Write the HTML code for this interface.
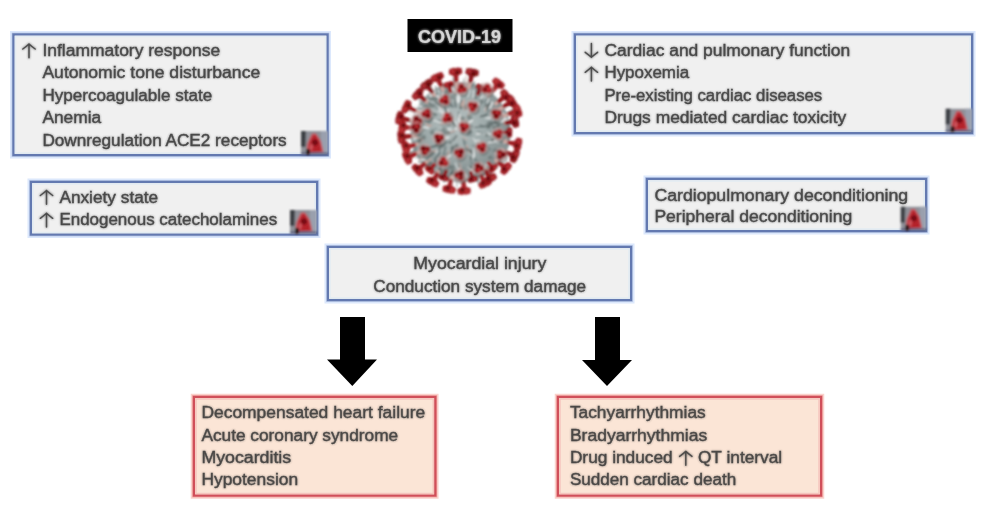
<!DOCTYPE html>
<html><head><meta charset="utf-8">
<style>
html,body{margin:0;padding:0;background:#fff;width:984px;height:506px;overflow:hidden}
svg{display:block}
text{font-family:"Liberation Sans",sans-serif;font-size:16px}
.bxh{fill:none;stroke:#dce8fc;stroke-width:7}
.bxh2{fill:none;stroke:#a8b8dc;stroke-width:3.6}
.rbh{fill:none;stroke:#fad2cc;stroke-width:6.5}
.rbh2{fill:none;stroke:#ee9a98;stroke-width:3.6}
.bx{fill:#f0f0f0;stroke:#6479b0;stroke-width:2.2}
.bxi{fill:none;stroke:#e2ecf2;stroke-width:1.4}
.rbi{fill:none;stroke:#f6c4bc;stroke-width:1.4}
.rb{fill:#fbe5d6;stroke:#d0505a;stroke-width:2.2}
.ar{fill:none;stroke:#333;stroke-width:1.7;stroke-linecap:round}
</style></head>
<body>
<svg width="984" height="506" viewBox="0 0 984 506">
<defs>
<filter id="tb" x="-5%" y="-20%" width="110%" height="140%"><feGaussianBlur stdDeviation="0.8"/></filter>
<filter id="bb" x="-2%" y="-5%" width="104%" height="110%"><feGaussianBlur stdDeviation="0.5"/></filter>
<filter id="ib" x="-20%" y="-20%" width="140%" height="140%"><feGaussianBlur stdDeviation="1"/></filter>
<path id="ua" d="M0,0.6 V13.8 M-6.2,5 Q-2.6,2.4 0,0 Q2.6,2.4 6.2,5"/>
</defs>
<rect x="0" y="0" width="984" height="506" fill="#fff"/>

<!-- Boxes -->
<g filter="url(#bb)">
<rect class="bxh" x="13.5" y="34.5" width="314" height="120.5"/>
<rect class="bxh" x="31" y="182" width="286" height="52.5"/>
<rect class="bxh" x="575" y="34.5" width="397" height="98.5"/>
<rect class="bxh" x="647" y="179" width="279" height="52"/>
<rect class="bxh" x="328" y="247" width="303" height="53"/>
<rect class="rbh" x="194" y="397" width="241.3" height="98.5"/>
<rect class="rbh" x="558" y="397" width="263" height="98.5"/>
<rect class="bxh2" x="13.5" y="34.5" width="314" height="120.5"/>
<rect class="bxh2" x="31" y="182" width="286" height="52.5"/>
<rect class="bxh2" x="575" y="34.5" width="397" height="98.5"/>
<rect class="bxh2" x="647" y="179" width="279" height="52"/>
<rect class="bxh2" x="328" y="247" width="303" height="53"/>
<rect class="rbh2" x="194" y="397" width="241.3" height="98.5"/>
<rect class="rbh2" x="558" y="397" width="263" height="98.5"/>
<rect class="bx" x="13.5" y="34.5" width="314" height="120.5"/>
<rect class="bx" x="31" y="182" width="286" height="52.5"/>
<rect class="bx" x="575" y="34.5" width="397" height="98.5"/>
<rect class="bx" x="647" y="179" width="279" height="52"/>
<rect class="bx" x="328" y="247" width="303" height="53"/>
<rect class="rb" x="194" y="397" width="241.3" height="98.5"/>
<rect class="rb" x="558" y="397" width="263" height="98.5"/>
<rect class="bxi" x="15.5" y="36.5" width="310.0" height="116.5"/>
<rect class="bxi" x="33.0" y="184.0" width="282.0" height="48.5"/>
<rect class="bxi" x="577.0" y="36.5" width="393.0" height="94.5"/>
<rect class="bxi" x="649.0" y="181.0" width="275.0" height="48.0"/>
<rect class="bxi" x="330.0" y="249.0" width="299.0" height="49.0"/>
<rect class="rbi" x="196.0" y="399.0" width="237.3" height="94.5"/>
<rect class="rbi" x="560.0" y="399.0" width="259.0" height="94.5"/>
</g>

<!-- small icons -->
<defs><symbol id="ic" viewBox="0 0 27 24" preserveAspectRatio="none">
  <rect width="27" height="24" fill="#8e9098"/>
  <rect x="20" width="7" height="24" fill="#9aa0ae"/>
  <path d="M0,0 H5 L4.5,16 H0 Z" fill="#3e3f44"/>
  <path d="M5,22 L6.5,12 L11,2.5 L15,2.5 L20,10 L22.5,21 Z" fill="#c45058"/>
  <path d="M7,21 L8.5,12 L12,4.5 L15,4.5 L18.5,11 L20.5,20.5 Z" fill="#b4222c"/>
  <circle cx="14" cy="11.5" r="3" fill="#760a12"/>
  <path d="M8,18 L10,12 L12,15 L11,20 Z" fill="#d86a72" opacity=".7"/>
  <rect y="21.5" width="27" height="2.5" fill="#5a6080"/>
  <rect x="5" y="18" width="4" height="6" fill="#2e1a1a"/>
</symbol></defs>
<g filter="url(#ib)">
 <use href="#ic" x="301" y="131" width="27" height="24"/>
 <use href="#ic" x="290" y="210" width="27" height="24"/>
 <use href="#ic" x="945.5" y="108.5" width="27" height="24"/>
 <use href="#ic" x="900.5" y="206.5" width="26" height="24.5"/>
</g>

<!-- glyph arrows -->
<defs><g id="gar">
 <use href="#ua" x="29" y="44"/>
 <use href="#ua" x="46.5" y="190.5"/>
 <use href="#ua" x="46.5" y="213.3"/>
 <use href="#ua" transform="translate(591.4,57.3) scale(1,-1)"/>
 <use href="#ua" x="591.4" y="67.3"/>
 <use href="#ua" x="685.8" y="451.4"/>
</g></defs>
<use href="#gar" filter="url(#tb)" fill="none" stroke="#333" stroke-width="2.0" stroke-linecap="round" opacity="0.55"/>
<use href="#gar" fill="none" stroke="#383838" stroke-width="1.5" stroke-linecap="round" opacity="0.8"/>

<defs><g id="txt">
<!-- Box A -->
<text x="42.4" y="56" textLength="177.8" lengthAdjust="spacingAndGlyphs">Inflammatory response</text>
<text x="42.4" y="78.3" textLength="217.8" lengthAdjust="spacingAndGlyphs">Autonomic tone disturbance</text>
<text x="42.4" y="100.6" textLength="169.8" lengthAdjust="spacingAndGlyphs">Hypercoagulable state</text>
<text x="42.4" y="123" textLength="58.8" lengthAdjust="spacingAndGlyphs">Anemia</text>
<text x="42.4" y="145.5" textLength="244.3" lengthAdjust="spacingAndGlyphs">Downregulation ACE2 receptors</text>
<!-- Box B -->
<text x="59.4" y="203" textLength="98.8" lengthAdjust="spacingAndGlyphs">Anxiety state</text>
<text x="59.4" y="225.4" textLength="217.8" lengthAdjust="spacingAndGlyphs">Endogenous catecholamines</text>
<!-- Box C -->
<text x="604.4" y="56.3" textLength="245.8" lengthAdjust="spacingAndGlyphs">Cardiac and pulmonary function</text>
<text x="604.4" y="78.3" textLength="84.8" lengthAdjust="spacingAndGlyphs">Hypoxemia</text>
<text x="604.4" y="100.6" textLength="217.8" lengthAdjust="spacingAndGlyphs">Pre-existing cardiac diseases</text>
<text x="604.4" y="122.8" textLength="241.8" lengthAdjust="spacingAndGlyphs">Drugs mediated cardiac toxicity</text>
<!-- Box D -->
<text x="654.4" y="200.5" textLength="253.8" lengthAdjust="spacingAndGlyphs">Cardiopulmonary deconditioning</text>
<text x="654.4" y="222.3" textLength="197.8" lengthAdjust="spacingAndGlyphs">Peripheral deconditioning</text>
<!-- Box E -->
<text x="413.3" y="269.3" textLength="133" lengthAdjust="spacingAndGlyphs">Myocardial injury</text>
<text x="373.3" y="291.7" textLength="212.8" lengthAdjust="spacingAndGlyphs">Conduction system damage</text>
<!-- Box F -->
<text x="201.4" y="418.4" textLength="223.8" lengthAdjust="spacingAndGlyphs">Decompensated heart failure</text>
<text x="201.4" y="441.2" textLength="196.8" lengthAdjust="spacingAndGlyphs">Acute coronary syndrome</text>
<text x="201.4" y="463" textLength="89.8" lengthAdjust="spacingAndGlyphs">Myocarditis</text>
<text x="201.4" y="485.3" textLength="96.8" lengthAdjust="spacingAndGlyphs">Hypotension</text>
<!-- Box G -->
<text x="569.9" y="418" textLength="135.8" lengthAdjust="spacingAndGlyphs">Tachyarrhythmias</text>
<text x="569.9" y="440.5" textLength="137.3" lengthAdjust="spacingAndGlyphs">Bradyarrhythmias</text>
<text x="569.9" y="463" textLength="102.8" lengthAdjust="spacingAndGlyphs">Drug induced</text>
<text x="697.9" y="463" textLength="84.3" lengthAdjust="spacingAndGlyphs">QT interval</text>
<text x="569.9" y="485.3" textLength="166.3" lengthAdjust="spacingAndGlyphs">Sudden cardiac death</text>
</g></defs>
<use href="#txt" filter="url(#tb)" fill="#2e2e2e" stroke="#2e2e2e" stroke-width="0.6" opacity="0.45"/>
<use href="#txt" fill="#363636" stroke="#363636" stroke-width="0.35" opacity="0.85"/>

<!-- Arrows -->
<path d="M340 317 H365 V359.5 H377 L352.3 386 L327 359.5 H340 Z" fill="#000"/>
<path d="M595 317 H620 V360 H632 L607 386 L582 360 H595 Z" fill="#000"/>

<!-- COVID label -->
<rect x="407.5" y="19" width="105" height="33" fill="#000"/>
<text x="418" y="43.3" textLength="83" lengthAdjust="spacingAndGlyphs" filter="url(#tb)" opacity="0.6" style="fill:#e8e8e8;stroke:#e8e8e8;stroke-width:0.8;font-weight:bold;font-size:18.5px">COVID-19</text>
<text x="418" y="43.3" textLength="83" lengthAdjust="spacingAndGlyphs" opacity="0.85" style="fill:#e6e6e6;stroke:#e6e6e6;stroke-width:0.2;font-weight:bold;font-size:18.5px">COVID-19</text>

<defs><radialGradient id="vg" cx="0.45" cy="0.42" r="0.6"><stop offset="0" stop-color="#b8c2c2"/><stop offset="0.55" stop-color="#9ca8a8"/><stop offset="1" stop-color="#7e8888"/></radialGradient>
<filter id="vb" x="-10%" y="-10%" width="120%" height="120%"><feGaussianBlur stdDeviation="1.0"/></filter></defs>
<g filter="url(#vb)" stroke-linejoin="round">
<circle cx="460.5" cy="132" r="50" fill="url(#vg)"/>
<g><line x1="470.0" y1="174.0" x2="472.7" y2="181.3" stroke="#4e5a5a" stroke-width="1.3" stroke-opacity="0.85" stroke-linecap="round"/><line x1="490.6" y1="126.5" x2="498.4" y2="129.2" stroke="#dfe4e4" stroke-width="1.0" stroke-opacity="0.85" stroke-linecap="round"/><line x1="460.0" y1="107.8" x2="461.4" y2="100.3" stroke="#5c6a6b" stroke-width="1.3" stroke-opacity="0.85" stroke-linecap="round"/><line x1="493.8" y1="139.4" x2="499.1" y2="140.8" stroke="#eceeee" stroke-width="1.7" stroke-opacity="0.85" stroke-linecap="round"/><line x1="478.7" y1="174.9" x2="478.5" y2="183.8" stroke="#8e9a9b" stroke-width="1.6" stroke-opacity="0.85" stroke-linecap="round"/><line x1="443.1" y1="136.2" x2="439.6" y2="136.7" stroke="#eceeee" stroke-width="1.5" stroke-opacity="0.85" stroke-linecap="round"/><line x1="422.9" y1="130.2" x2="417.2" y2="128.9" stroke="#c8a8a0" stroke-width="1.6" stroke-opacity="0.85" stroke-linecap="round"/><line x1="451.5" y1="97.1" x2="447.9" y2="90.4" stroke="#dfe4e4" stroke-width="1.0" stroke-opacity="0.85" stroke-linecap="round"/><line x1="472.0" y1="86.5" x2="474.4" y2="82.1" stroke="#5c6a6b" stroke-width="1.4" stroke-opacity="0.85" stroke-linecap="round"/><line x1="418.2" y1="142.0" x2="415.3" y2="145.0" stroke="#4e5a5a" stroke-width="1.2" stroke-opacity="0.85" stroke-linecap="round"/><line x1="436.8" y1="151.0" x2="431.8" y2="151.5" stroke="#c8a8a0" stroke-width="1.8" stroke-opacity="0.85" stroke-linecap="round"/><line x1="500.2" y1="119.8" x2="505.9" y2="117.7" stroke="#f4f6f6" stroke-width="1.1" stroke-opacity="0.85" stroke-linecap="round"/><line x1="437.6" y1="145.4" x2="429.3" y2="147.7" stroke="#4e5a5a" stroke-width="1.8" stroke-opacity="0.85" stroke-linecap="round"/><line x1="462.6" y1="136.8" x2="467.2" y2="139.8" stroke="#c8a8a0" stroke-width="1.0" stroke-opacity="0.85" stroke-linecap="round"/><line x1="472.1" y1="145.2" x2="478.5" y2="147.4" stroke="#7a8888" stroke-width="1.3" stroke-opacity="0.85" stroke-linecap="round"/><line x1="502.2" y1="142.9" x2="508.2" y2="142.8" stroke="#6f7d7e" stroke-width="1.8" stroke-opacity="0.85" stroke-linecap="round"/><line x1="473.3" y1="111.9" x2="475.9" y2="108.7" stroke="#8e9a9b" stroke-width="1.3" stroke-opacity="0.85" stroke-linecap="round"/><line x1="447.4" y1="141.6" x2="444.0" y2="145.6" stroke="#6f7d7e" stroke-width="1.8" stroke-opacity="0.85" stroke-linecap="round"/><line x1="478.9" y1="95.1" x2="482.0" y2="88.9" stroke="#5c6a6b" stroke-width="1.2" stroke-opacity="0.85" stroke-linecap="round"/><line x1="429.2" y1="125.5" x2="426.0" y2="124.0" stroke="#c8a8a0" stroke-width="1.8" stroke-opacity="0.85" stroke-linecap="round"/><line x1="478.0" y1="104.4" x2="485.1" y2="99.3" stroke="#dfe4e4" stroke-width="1.3" stroke-opacity="0.85" stroke-linecap="round"/><line x1="475.5" y1="170.5" x2="477.3" y2="174.4" stroke="#dfe4e4" stroke-width="1.0" stroke-opacity="0.85" stroke-linecap="round"/><line x1="494.1" y1="139.5" x2="498.1" y2="142.6" stroke="#dfe4e4" stroke-width="1.6" stroke-opacity="0.85" stroke-linecap="round"/><line x1="445.0" y1="95.0" x2="440.4" y2="88.8" stroke="#5c6a6b" stroke-width="1.4" stroke-opacity="0.85" stroke-linecap="round"/><line x1="473.9" y1="111.0" x2="475.9" y2="108.5" stroke="#4e5a5a" stroke-width="1.1" stroke-opacity="0.85" stroke-linecap="round"/><line x1="453.9" y1="177.0" x2="451.3" y2="180.4" stroke="#7a8888" stroke-width="1.7" stroke-opacity="0.85" stroke-linecap="round"/><line x1="476.8" y1="133.9" x2="481.8" y2="133.2" stroke="#eceeee" stroke-width="1.7" stroke-opacity="0.85" stroke-linecap="round"/><line x1="422.5" y1="106.5" x2="414.7" y2="106.2" stroke="#f4f6f6" stroke-width="1.7" stroke-opacity="0.85" stroke-linecap="round"/><line x1="485.0" y1="99.2" x2="487.8" y2="92.8" stroke="#f4f6f6" stroke-width="1.4" stroke-opacity="0.85" stroke-linecap="round"/><line x1="507.7" y1="136.1" x2="510.7" y2="137.6" stroke="#eceeee" stroke-width="1.2" stroke-opacity="0.85" stroke-linecap="round"/><line x1="464.0" y1="163.7" x2="467.7" y2="170.5" stroke="#8e9a9b" stroke-width="1.7" stroke-opacity="0.85" stroke-linecap="round"/><line x1="437.6" y1="108.9" x2="433.9" y2="104.8" stroke="#7a8888" stroke-width="1.3" stroke-opacity="0.85" stroke-linecap="round"/><line x1="492.5" y1="167.7" x2="493.7" y2="170.7" stroke="#6f7d7e" stroke-width="1.1" stroke-opacity="0.85" stroke-linecap="round"/><line x1="419.1" y1="132.2" x2="414.3" y2="133.3" stroke="#c8a8a0" stroke-width="1.3" stroke-opacity="0.85" stroke-linecap="round"/><line x1="449.5" y1="112.4" x2="443.1" y2="106.2" stroke="#4e5a5a" stroke-width="1.1" stroke-opacity="0.85" stroke-linecap="round"/><line x1="466.1" y1="153.6" x2="467.4" y2="156.8" stroke="#8e9a9b" stroke-width="1.0" stroke-opacity="0.85" stroke-linecap="round"/><line x1="456.6" y1="147.0" x2="454.5" y2="153.5" stroke="#6f7d7e" stroke-width="1.5" stroke-opacity="0.85" stroke-linecap="round"/><line x1="453.7" y1="119.2" x2="450.2" y2="112.9" stroke="#4e5a5a" stroke-width="1.8" stroke-opacity="0.85" stroke-linecap="round"/><line x1="432.4" y1="109.0" x2="426.9" y2="103.4" stroke="#eceeee" stroke-width="1.3" stroke-opacity="0.85" stroke-linecap="round"/><line x1="447.9" y1="171.8" x2="445.1" y2="175.4" stroke="#7a8888" stroke-width="1.6" stroke-opacity="0.85" stroke-linecap="round"/><line x1="495.5" y1="135.0" x2="499.1" y2="134.8" stroke="#c8a8a0" stroke-width="1.5" stroke-opacity="0.85" stroke-linecap="round"/><line x1="420.8" y1="140.8" x2="418.2" y2="143.6" stroke="#4e5a5a" stroke-width="1.0" stroke-opacity="0.85" stroke-linecap="round"/><line x1="477.9" y1="165.6" x2="477.4" y2="172.1" stroke="#dfe4e4" stroke-width="1.0" stroke-opacity="0.85" stroke-linecap="round"/><line x1="487.2" y1="133.1" x2="490.7" y2="134.2" stroke="#dfe4e4" stroke-width="1.7" stroke-opacity="0.85" stroke-linecap="round"/><line x1="416.6" y1="114.4" x2="409.5" y2="110.9" stroke="#eceeee" stroke-width="1.8" stroke-opacity="0.85" stroke-linecap="round"/><line x1="475.1" y1="127.4" x2="483.7" y2="126.9" stroke="#5c6a6b" stroke-width="1.3" stroke-opacity="0.85" stroke-linecap="round"/><line x1="450.2" y1="117.0" x2="447.9" y2="114.4" stroke="#f4f6f6" stroke-width="1.2" stroke-opacity="0.85" stroke-linecap="round"/><line x1="507.2" y1="123.5" x2="513.7" y2="122.9" stroke="#f4f6f6" stroke-width="1.5" stroke-opacity="0.85" stroke-linecap="round"/><line x1="426.1" y1="122.1" x2="423.2" y2="119.4" stroke="#7a8888" stroke-width="1.6" stroke-opacity="0.85" stroke-linecap="round"/><line x1="502.2" y1="133.7" x2="509.5" y2="133.5" stroke="#8e9a9b" stroke-width="1.1" stroke-opacity="0.85" stroke-linecap="round"/><line x1="485.7" y1="96.7" x2="490.8" y2="89.7" stroke="#f4f6f6" stroke-width="1.8" stroke-opacity="0.85" stroke-linecap="round"/><line x1="440.1" y1="152.5" x2="435.0" y2="158.9" stroke="#5c6a6b" stroke-width="1.7" stroke-opacity="0.85" stroke-linecap="round"/><line x1="441.2" y1="108.8" x2="439.9" y2="104.8" stroke="#c8a8a0" stroke-width="1.2" stroke-opacity="0.85" stroke-linecap="round"/><line x1="458.8" y1="168.4" x2="459.1" y2="175.6" stroke="#eceeee" stroke-width="1.4" stroke-opacity="0.85" stroke-linecap="round"/><line x1="494.0" y1="164.2" x2="497.9" y2="168.5" stroke="#dfe4e4" stroke-width="1.7" stroke-opacity="0.85" stroke-linecap="round"/><line x1="450.5" y1="155.4" x2="445.8" y2="158.7" stroke="#eceeee" stroke-width="1.7" stroke-opacity="0.85" stroke-linecap="round"/><line x1="475.3" y1="159.7" x2="479.0" y2="162.0" stroke="#5c6a6b" stroke-width="1.2" stroke-opacity="0.85" stroke-linecap="round"/><line x1="429.5" y1="107.9" x2="422.5" y2="105.8" stroke="#6f7d7e" stroke-width="1.7" stroke-opacity="0.85" stroke-linecap="round"/><line x1="436.0" y1="168.5" x2="434.0" y2="173.7" stroke="#dfe4e4" stroke-width="1.1" stroke-opacity="0.85" stroke-linecap="round"/><line x1="436.9" y1="173.4" x2="437.1" y2="179.1" stroke="#c8a8a0" stroke-width="1.0" stroke-opacity="0.85" stroke-linecap="round"/><line x1="444.0" y1="125.6" x2="440.0" y2="124.2" stroke="#7a8888" stroke-width="1.3" stroke-opacity="0.85" stroke-linecap="round"/><line x1="464.9" y1="93.9" x2="463.9" y2="87.0" stroke="#dfe4e4" stroke-width="1.4" stroke-opacity="0.85" stroke-linecap="round"/><line x1="463.2" y1="107.1" x2="464.3" y2="100.0" stroke="#c8a8a0" stroke-width="1.6" stroke-opacity="0.85" stroke-linecap="round"/><line x1="440.1" y1="149.6" x2="433.3" y2="153.5" stroke="#5c6a6b" stroke-width="1.1" stroke-opacity="0.85" stroke-linecap="round"/><line x1="504.9" y1="115.9" x2="510.9" y2="114.2" stroke="#7a8888" stroke-width="1.4" stroke-opacity="0.85" stroke-linecap="round"/><line x1="416.5" y1="111.4" x2="410.8" y2="106.6" stroke="#8e9a9b" stroke-width="1.1" stroke-opacity="0.85" stroke-linecap="round"/><line x1="499.5" y1="147.5" x2="508.1" y2="146.9" stroke="#8e9a9b" stroke-width="1.7" stroke-opacity="0.85" stroke-linecap="round"/><line x1="475.0" y1="147.0" x2="478.7" y2="150.1" stroke="#8e9a9b" stroke-width="1.4" stroke-opacity="0.85" stroke-linecap="round"/><line x1="441.7" y1="99.6" x2="435.4" y2="96.0" stroke="#f4f6f6" stroke-width="1.4" stroke-opacity="0.85" stroke-linecap="round"/><line x1="484.5" y1="117.9" x2="488.1" y2="114.1" stroke="#8e9a9b" stroke-width="1.0" stroke-opacity="0.85" stroke-linecap="round"/><line x1="461.0" y1="106.7" x2="462.7" y2="101.9" stroke="#c8a8a0" stroke-width="1.8" stroke-opacity="0.85" stroke-linecap="round"/><line x1="455.3" y1="162.9" x2="457.4" y2="168.5" stroke="#dfe4e4" stroke-width="1.1" stroke-opacity="0.85" stroke-linecap="round"/><line x1="469.5" y1="150.1" x2="472.7" y2="158.0" stroke="#dfe4e4" stroke-width="1.1" stroke-opacity="0.85" stroke-linecap="round"/><line x1="429.4" y1="123.7" x2="422.7" y2="119.5" stroke="#8e9a9b" stroke-width="1.5" stroke-opacity="0.85" stroke-linecap="round"/><line x1="425.1" y1="121.8" x2="419.0" y2="122.4" stroke="#8e9a9b" stroke-width="1.2" stroke-opacity="0.85" stroke-linecap="round"/><line x1="435.5" y1="160.2" x2="434.3" y2="167.9" stroke="#4e5a5a" stroke-width="1.8" stroke-opacity="0.85" stroke-linecap="round"/><line x1="448.8" y1="137.3" x2="442.4" y2="139.4" stroke="#f4f6f6" stroke-width="1.5" stroke-opacity="0.85" stroke-linecap="round"/><line x1="440.4" y1="168.0" x2="437.3" y2="173.8" stroke="#6f7d7e" stroke-width="1.1" stroke-opacity="0.85" stroke-linecap="round"/><line x1="486.1" y1="105.4" x2="488.6" y2="99.1" stroke="#eceeee" stroke-width="1.2" stroke-opacity="0.85" stroke-linecap="round"/><line x1="463.5" y1="85.7" x2="463.9" y2="78.8" stroke="#7a8888" stroke-width="1.1" stroke-opacity="0.85" stroke-linecap="round"/><line x1="438.8" y1="147.8" x2="435.9" y2="152.8" stroke="#dfe4e4" stroke-width="1.5" stroke-opacity="0.85" stroke-linecap="round"/><line x1="415.6" y1="118.0" x2="412.1" y2="118.1" stroke="#f4f6f6" stroke-width="1.0" stroke-opacity="0.85" stroke-linecap="round"/><line x1="444.5" y1="114.8" x2="438.7" y2="110.6" stroke="#dfe4e4" stroke-width="1.7" stroke-opacity="0.85" stroke-linecap="round"/><line x1="470.6" y1="174.7" x2="470.4" y2="182.1" stroke="#c8a8a0" stroke-width="1.8" stroke-opacity="0.85" stroke-linecap="round"/><line x1="430.5" y1="151.9" x2="427.5" y2="155.8" stroke="#6f7d7e" stroke-width="1.3" stroke-opacity="0.85" stroke-linecap="round"/><line x1="495.0" y1="152.6" x2="500.4" y2="154.9" stroke="#dfe4e4" stroke-width="1.4" stroke-opacity="0.85" stroke-linecap="round"/><line x1="452.7" y1="146.9" x2="451.3" y2="152.5" stroke="#4e5a5a" stroke-width="1.4" stroke-opacity="0.85" stroke-linecap="round"/><line x1="456.0" y1="85.7" x2="453.0" y2="78.2" stroke="#7a8888" stroke-width="1.4" stroke-opacity="0.85" stroke-linecap="round"/><line x1="470.1" y1="104.4" x2="469.1" y2="100.3" stroke="#c8a8a0" stroke-width="1.1" stroke-opacity="0.85" stroke-linecap="round"/><line x1="456.5" y1="101.5" x2="454.6" y2="98.0" stroke="#4e5a5a" stroke-width="1.4" stroke-opacity="0.85" stroke-linecap="round"/><line x1="474.2" y1="95.9" x2="476.8" y2="90.9" stroke="#8e9a9b" stroke-width="1.0" stroke-opacity="0.85" stroke-linecap="round"/><line x1="412.7" y1="126.8" x2="405.5" y2="126.8" stroke="#6f7d7e" stroke-width="1.2" stroke-opacity="0.85" stroke-linecap="round"/><line x1="414.4" y1="131.3" x2="407.2" y2="127.3" stroke="#eceeee" stroke-width="1.1" stroke-opacity="0.85" stroke-linecap="round"/><line x1="458.0" y1="98.5" x2="458.3" y2="93.4" stroke="#dfe4e4" stroke-width="1.5" stroke-opacity="0.85" stroke-linecap="round"/><line x1="491.2" y1="111.1" x2="499.9" y2="110.9" stroke="#5c6a6b" stroke-width="1.4" stroke-opacity="0.85" stroke-linecap="round"/><line x1="466.6" y1="85.0" x2="466.0" y2="76.1" stroke="#c8a8a0" stroke-width="1.1" stroke-opacity="0.85" stroke-linecap="round"/><line x1="415.9" y1="147.4" x2="411.7" y2="146.8" stroke="#7a8888" stroke-width="1.3" stroke-opacity="0.85" stroke-linecap="round"/><line x1="458.4" y1="117.2" x2="458.6" y2="111.9" stroke="#4e5a5a" stroke-width="1.1" stroke-opacity="0.85" stroke-linecap="round"/><line x1="439.8" y1="167.0" x2="439.5" y2="172.3" stroke="#c8a8a0" stroke-width="1.4" stroke-opacity="0.85" stroke-linecap="round"/><line x1="488.3" y1="122.3" x2="496.5" y2="122.8" stroke="#4e5a5a" stroke-width="1.7" stroke-opacity="0.85" stroke-linecap="round"/><line x1="465.8" y1="174.4" x2="467.4" y2="179.6" stroke="#eceeee" stroke-width="1.4" stroke-opacity="0.85" stroke-linecap="round"/><line x1="480.8" y1="116.5" x2="486.6" y2="114.9" stroke="#4e5a5a" stroke-width="1.8" stroke-opacity="0.85" stroke-linecap="round"/><line x1="485.7" y1="164.3" x2="492.2" y2="167.2" stroke="#dfe4e4" stroke-width="1.3" stroke-opacity="0.85" stroke-linecap="round"/><line x1="470.6" y1="162.1" x2="475.6" y2="166.5" stroke="#6f7d7e" stroke-width="1.4" stroke-opacity="0.85" stroke-linecap="round"/><line x1="500.2" y1="155.3" x2="505.1" y2="157.0" stroke="#dfe4e4" stroke-width="1.2" stroke-opacity="0.85" stroke-linecap="round"/><line x1="444.3" y1="113.1" x2="438.8" y2="107.4" stroke="#eceeee" stroke-width="1.2" stroke-opacity="0.85" stroke-linecap="round"/><line x1="475.0" y1="140.6" x2="479.3" y2="140.3" stroke="#eceeee" stroke-width="1.2" stroke-opacity="0.85" stroke-linecap="round"/><line x1="466.7" y1="124.0" x2="472.3" y2="120.4" stroke="#f4f6f6" stroke-width="1.6" stroke-opacity="0.85" stroke-linecap="round"/><line x1="457.2" y1="144.2" x2="459.5" y2="151.7" stroke="#6f7d7e" stroke-width="1.7" stroke-opacity="0.85" stroke-linecap="round"/><line x1="436.0" y1="92.9" x2="431.0" y2="86.7" stroke="#dfe4e4" stroke-width="1.5" stroke-opacity="0.85" stroke-linecap="round"/><line x1="486.6" y1="169.2" x2="491.4" y2="173.8" stroke="#7a8888" stroke-width="1.6" stroke-opacity="0.85" stroke-linecap="round"/><line x1="454.9" y1="119.9" x2="452.5" y2="118.0" stroke="#5c6a6b" stroke-width="1.6" stroke-opacity="0.85" stroke-linecap="round"/><line x1="418.2" y1="116.6" x2="415.0" y2="115.5" stroke="#f4f6f6" stroke-width="1.5" stroke-opacity="0.85" stroke-linecap="round"/><line x1="447.0" y1="160.4" x2="447.4" y2="166.5" stroke="#eceeee" stroke-width="1.3" stroke-opacity="0.85" stroke-linecap="round"/><line x1="453.6" y1="90.4" x2="451.7" y2="86.9" stroke="#eceeee" stroke-width="1.6" stroke-opacity="0.85" stroke-linecap="round"/><line x1="471.7" y1="175.1" x2="472.9" y2="180.5" stroke="#eceeee" stroke-width="1.7" stroke-opacity="0.85" stroke-linecap="round"/><line x1="505.5" y1="130.4" x2="510.7" y2="132.0" stroke="#6f7d7e" stroke-width="1.2" stroke-opacity="0.85" stroke-linecap="round"/><line x1="420.1" y1="154.2" x2="415.6" y2="158.4" stroke="#7a8888" stroke-width="1.0" stroke-opacity="0.85" stroke-linecap="round"/><line x1="485.0" y1="109.6" x2="488.5" y2="105.9" stroke="#eceeee" stroke-width="1.6" stroke-opacity="0.85" stroke-linecap="round"/><line x1="439.2" y1="92.3" x2="435.6" y2="88.3" stroke="#dfe4e4" stroke-width="1.2" stroke-opacity="0.85" stroke-linecap="round"/><line x1="459.2" y1="163.0" x2="460.4" y2="168.1" stroke="#c8a8a0" stroke-width="1.8" stroke-opacity="0.85" stroke-linecap="round"/><line x1="453.6" y1="176.0" x2="452.5" y2="184.9" stroke="#eceeee" stroke-width="1.3" stroke-opacity="0.85" stroke-linecap="round"/><line x1="495.8" y1="110.5" x2="502.7" y2="105.9" stroke="#5c6a6b" stroke-width="1.6" stroke-opacity="0.85" stroke-linecap="round"/><line x1="503.5" y1="134.0" x2="509.3" y2="130.5" stroke="#8e9a9b" stroke-width="1.4" stroke-opacity="0.85" stroke-linecap="round"/><line x1="430.9" y1="159.0" x2="424.6" y2="165.2" stroke="#c8a8a0" stroke-width="1.8" stroke-opacity="0.85" stroke-linecap="round"/><line x1="444.3" y1="87.1" x2="443.3" y2="83.7" stroke="#5c6a6b" stroke-width="1.2" stroke-opacity="0.85" stroke-linecap="round"/><line x1="477.7" y1="131.9" x2="482.6" y2="133.2" stroke="#6f7d7e" stroke-width="1.3" stroke-opacity="0.85" stroke-linecap="round"/><line x1="473.2" y1="149.5" x2="474.3" y2="157.3" stroke="#eceeee" stroke-width="1.8" stroke-opacity="0.85" stroke-linecap="round"/><line x1="484.9" y1="166.1" x2="489.8" y2="171.8" stroke="#c8a8a0" stroke-width="1.4" stroke-opacity="0.85" stroke-linecap="round"/><line x1="438.5" y1="98.9" x2="432.2" y2="96.2" stroke="#7a8888" stroke-width="1.4" stroke-opacity="0.85" stroke-linecap="round"/><line x1="477.0" y1="174.9" x2="477.0" y2="181.5" stroke="#4e5a5a" stroke-width="1.3" stroke-opacity="0.85" stroke-linecap="round"/><line x1="473.7" y1="111.4" x2="473.9" y2="107.5" stroke="#f4f6f6" stroke-width="1.1" stroke-opacity="0.85" stroke-linecap="round"/><line x1="487.9" y1="126.4" x2="492.0" y2="124.4" stroke="#5c6a6b" stroke-width="1.8" stroke-opacity="0.85" stroke-linecap="round"/><line x1="426.0" y1="113.5" x2="421.3" y2="110.8" stroke="#eceeee" stroke-width="1.7" stroke-opacity="0.85" stroke-linecap="round"/><line x1="503.6" y1="143.2" x2="509.8" y2="141.3" stroke="#f4f6f6" stroke-width="1.1" stroke-opacity="0.85" stroke-linecap="round"/><line x1="423.0" y1="160.6" x2="418.7" y2="162.1" stroke="#4e5a5a" stroke-width="1.5" stroke-opacity="0.85" stroke-linecap="round"/><line x1="447.6" y1="133.5" x2="439.4" y2="130.4" stroke="#7a8888" stroke-width="1.2" stroke-opacity="0.85" stroke-linecap="round"/><line x1="448.8" y1="164.8" x2="448.3" y2="169.4" stroke="#6f7d7e" stroke-width="1.8" stroke-opacity="0.85" stroke-linecap="round"/><line x1="442.2" y1="121.3" x2="438.6" y2="120.2" stroke="#5c6a6b" stroke-width="1.3" stroke-opacity="0.85" stroke-linecap="round"/><line x1="500.4" y1="131.5" x2="506.8" y2="135.3" stroke="#f4f6f6" stroke-width="1.1" stroke-opacity="0.85" stroke-linecap="round"/><line x1="473.7" y1="94.4" x2="479.3" y2="88.3" stroke="#5c6a6b" stroke-width="1.8" stroke-opacity="0.85" stroke-linecap="round"/><line x1="479.7" y1="125.1" x2="485.3" y2="126.5" stroke="#5c6a6b" stroke-width="1.4" stroke-opacity="0.85" stroke-linecap="round"/><line x1="475.2" y1="96.2" x2="474.1" y2="88.7" stroke="#8e9a9b" stroke-width="1.2" stroke-opacity="0.85" stroke-linecap="round"/><line x1="475.4" y1="95.1" x2="475.1" y2="88.9" stroke="#8e9a9b" stroke-width="1.4" stroke-opacity="0.85" stroke-linecap="round"/><line x1="448.7" y1="92.7" x2="445.1" y2="84.6" stroke="#5c6a6b" stroke-width="1.1" stroke-opacity="0.85" stroke-linecap="round"/><line x1="422.0" y1="111.5" x2="413.9" y2="108.5" stroke="#dfe4e4" stroke-width="1.7" stroke-opacity="0.85" stroke-linecap="round"/><line x1="424.8" y1="129.8" x2="419.1" y2="132.6" stroke="#7a8888" stroke-width="1.1" stroke-opacity="0.85" stroke-linecap="round"/><line x1="495.2" y1="129.3" x2="501.2" y2="130.6" stroke="#7a8888" stroke-width="1.5" stroke-opacity="0.85" stroke-linecap="round"/><line x1="456.9" y1="135.8" x2="453.0" y2="140.6" stroke="#4e5a5a" stroke-width="1.2" stroke-opacity="0.85" stroke-linecap="round"/><line x1="469.9" y1="175.3" x2="469.1" y2="179.3" stroke="#8e9a9b" stroke-width="1.3" stroke-opacity="0.85" stroke-linecap="round"/><line x1="470.9" y1="87.7" x2="472.3" y2="83.9" stroke="#6f7d7e" stroke-width="1.1" stroke-opacity="0.85" stroke-linecap="round"/><line x1="422.8" y1="122.3" x2="417.8" y2="120.6" stroke="#5c6a6b" stroke-width="1.1" stroke-opacity="0.85" stroke-linecap="round"/><line x1="464.5" y1="126.1" x2="465.7" y2="119.6" stroke="#c8a8a0" stroke-width="1.4" stroke-opacity="0.85" stroke-linecap="round"/><line x1="466.9" y1="145.7" x2="469.2" y2="152.5" stroke="#c8a8a0" stroke-width="1.7" stroke-opacity="0.85" stroke-linecap="round"/><line x1="494.0" y1="110.7" x2="498.6" y2="110.7" stroke="#dfe4e4" stroke-width="1.5" stroke-opacity="0.85" stroke-linecap="round"/><line x1="483.4" y1="106.9" x2="486.2" y2="103.2" stroke="#8e9a9b" stroke-width="1.4" stroke-opacity="0.85" stroke-linecap="round"/><line x1="463.6" y1="169.5" x2="460.7" y2="174.9" stroke="#7a8888" stroke-width="1.8" stroke-opacity="0.85" stroke-linecap="round"/><line x1="415.7" y1="123.7" x2="409.2" y2="122.1" stroke="#5c6a6b" stroke-width="1.0" stroke-opacity="0.85" stroke-linecap="round"/><line x1="495.9" y1="120.4" x2="501.0" y2="121.7" stroke="#eceeee" stroke-width="1.0" stroke-opacity="0.85" stroke-linecap="round"/><line x1="459.9" y1="93.8" x2="461.3" y2="88.6" stroke="#f4f6f6" stroke-width="1.3" stroke-opacity="0.85" stroke-linecap="round"/><line x1="440.6" y1="132.5" x2="435.4" y2="133.3" stroke="#dfe4e4" stroke-width="1.5" stroke-opacity="0.85" stroke-linecap="round"/><line x1="425.1" y1="104.0" x2="419.3" y2="100.7" stroke="#8e9a9b" stroke-width="1.7" stroke-opacity="0.85" stroke-linecap="round"/><line x1="431.4" y1="125.5" x2="428.3" y2="126.0" stroke="#c8a8a0" stroke-width="1.4" stroke-opacity="0.85" stroke-linecap="round"/><line x1="484.2" y1="164.8" x2="486.1" y2="173.1" stroke="#7a8888" stroke-width="1.3" stroke-opacity="0.85" stroke-linecap="round"/><line x1="468.9" y1="132.9" x2="472.4" y2="135.5" stroke="#8e9a9b" stroke-width="1.7" stroke-opacity="0.85" stroke-linecap="round"/><line x1="439.2" y1="101.0" x2="437.8" y2="94.5" stroke="#dfe4e4" stroke-width="1.3" stroke-opacity="0.85" stroke-linecap="round"/><line x1="490.1" y1="120.3" x2="498.3" y2="116.9" stroke="#7a8888" stroke-width="1.2" stroke-opacity="0.85" stroke-linecap="round"/><line x1="449.4" y1="133.2" x2="442.7" y2="134.4" stroke="#5c6a6b" stroke-width="1.3" stroke-opacity="0.85" stroke-linecap="round"/><line x1="479.6" y1="90.4" x2="482.3" y2="83.3" stroke="#c8a8a0" stroke-width="1.1" stroke-opacity="0.85" stroke-linecap="round"/><line x1="452.7" y1="171.4" x2="449.9" y2="175.6" stroke="#4e5a5a" stroke-width="1.7" stroke-opacity="0.85" stroke-linecap="round"/><line x1="433.1" y1="114.3" x2="426.7" y2="108.3" stroke="#6f7d7e" stroke-width="1.5" stroke-opacity="0.85" stroke-linecap="round"/><line x1="462.9" y1="139.4" x2="466.0" y2="142.4" stroke="#7a8888" stroke-width="1.7" stroke-opacity="0.85" stroke-linecap="round"/><line x1="502.3" y1="121.6" x2="507.5" y2="119.2" stroke="#f4f6f6" stroke-width="1.2" stroke-opacity="0.85" stroke-linecap="round"/><line x1="467.8" y1="116.3" x2="471.1" y2="110.7" stroke="#c8a8a0" stroke-width="1.5" stroke-opacity="0.85" stroke-linecap="round"/><line x1="446.0" y1="158.9" x2="439.2" y2="163.4" stroke="#f4f6f6" stroke-width="1.2" stroke-opacity="0.85" stroke-linecap="round"/><line x1="416.5" y1="125.3" x2="412.3" y2="125.6" stroke="#eceeee" stroke-width="1.1" stroke-opacity="0.85" stroke-linecap="round"/><line x1="420.9" y1="127.7" x2="416.0" y2="124.2" stroke="#eceeee" stroke-width="1.3" stroke-opacity="0.85" stroke-linecap="round"/><line x1="486.0" y1="114.7" x2="491.1" y2="108.2" stroke="#6f7d7e" stroke-width="1.2" stroke-opacity="0.85" stroke-linecap="round"/><line x1="447.2" y1="104.3" x2="443.9" y2="100.5" stroke="#6f7d7e" stroke-width="1.6" stroke-opacity="0.85" stroke-linecap="round"/><line x1="444.5" y1="93.1" x2="440.8" y2="88.9" stroke="#8e9a9b" stroke-width="1.2" stroke-opacity="0.85" stroke-linecap="round"/><line x1="480.5" y1="103.5" x2="485.3" y2="99.0" stroke="#8e9a9b" stroke-width="1.5" stroke-opacity="0.85" stroke-linecap="round"/><line x1="463.6" y1="141.8" x2="465.1" y2="145.6" stroke="#5c6a6b" stroke-width="1.4" stroke-opacity="0.85" stroke-linecap="round"/><line x1="496.5" y1="131.0" x2="501.1" y2="131.3" stroke="#4e5a5a" stroke-width="1.5" stroke-opacity="0.85" stroke-linecap="round"/><line x1="432.7" y1="163.7" x2="427.8" y2="165.1" stroke="#7a8888" stroke-width="1.6" stroke-opacity="0.85" stroke-linecap="round"/><line x1="422.0" y1="123.9" x2="418.9" y2="121.6" stroke="#c8a8a0" stroke-width="1.1" stroke-opacity="0.85" stroke-linecap="round"/><line x1="463.3" y1="167.1" x2="464.0" y2="173.3" stroke="#7a8888" stroke-width="1.3" stroke-opacity="0.85" stroke-linecap="round"/><line x1="414.7" y1="116.7" x2="408.7" y2="113.6" stroke="#f4f6f6" stroke-width="1.5" stroke-opacity="0.85" stroke-linecap="round"/><line x1="468.9" y1="149.8" x2="472.1" y2="153.6" stroke="#4e5a5a" stroke-width="1.7" stroke-opacity="0.85" stroke-linecap="round"/><line x1="485.3" y1="111.1" x2="487.3" y2="104.3" stroke="#c8a8a0" stroke-width="1.3" stroke-opacity="0.85" stroke-linecap="round"/><line x1="447.5" y1="100.1" x2="445.1" y2="96.8" stroke="#4e5a5a" stroke-width="1.6" stroke-opacity="0.85" stroke-linecap="round"/><line x1="442.9" y1="98.2" x2="443.0" y2="92.3" stroke="#f4f6f6" stroke-width="1.3" stroke-opacity="0.85" stroke-linecap="round"/><line x1="430.1" y1="122.8" x2="426.7" y2="121.5" stroke="#6f7d7e" stroke-width="1.5" stroke-opacity="0.85" stroke-linecap="round"/><line x1="480.7" y1="98.6" x2="483.2" y2="95.8" stroke="#f4f6f6" stroke-width="1.4" stroke-opacity="0.85" stroke-linecap="round"/><line x1="462.1" y1="121.7" x2="460.4" y2="117.4" stroke="#c8a8a0" stroke-width="1.2" stroke-opacity="0.85" stroke-linecap="round"/><line x1="436.6" y1="103.2" x2="431.8" y2="101.1" stroke="#8e9a9b" stroke-width="1.2" stroke-opacity="0.85" stroke-linecap="round"/><line x1="467.6" y1="133.1" x2="471.9" y2="132.2" stroke="#5c6a6b" stroke-width="1.6" stroke-opacity="0.85" stroke-linecap="round"/><line x1="483.8" y1="172.3" x2="489.9" y2="176.1" stroke="#dfe4e4" stroke-width="1.2" stroke-opacity="0.85" stroke-linecap="round"/><line x1="456.2" y1="179.4" x2="457.1" y2="187.0" stroke="#8e9a9b" stroke-width="1.0" stroke-opacity="0.85" stroke-linecap="round"/><line x1="454.6" y1="124.8" x2="450.9" y2="119.5" stroke="#4e5a5a" stroke-width="1.2" stroke-opacity="0.85" stroke-linecap="round"/><line x1="464.9" y1="140.6" x2="466.8" y2="143.3" stroke="#8e9a9b" stroke-width="1.3" stroke-opacity="0.85" stroke-linecap="round"/><line x1="423.6" y1="154.9" x2="419.2" y2="160.5" stroke="#c8a8a0" stroke-width="1.2" stroke-opacity="0.85" stroke-linecap="round"/><line x1="473.3" y1="138.4" x2="476.0" y2="142.8" stroke="#dfe4e4" stroke-width="1.1" stroke-opacity="0.85" stroke-linecap="round"/><line x1="459.0" y1="155.8" x2="461.1" y2="161.7" stroke="#8e9a9b" stroke-width="1.2" stroke-opacity="0.85" stroke-linecap="round"/><line x1="478.6" y1="91.5" x2="482.7" y2="86.2" stroke="#f4f6f6" stroke-width="1.3" stroke-opacity="0.85" stroke-linecap="round"/><line x1="471.6" y1="108.3" x2="473.5" y2="106.0" stroke="#5c6a6b" stroke-width="1.5" stroke-opacity="0.85" stroke-linecap="round"/><line x1="444.2" y1="154.6" x2="439.7" y2="157.3" stroke="#6f7d7e" stroke-width="1.6" stroke-opacity="0.85" stroke-linecap="round"/><line x1="449.3" y1="162.5" x2="447.4" y2="169.3" stroke="#c8a8a0" stroke-width="1.5" stroke-opacity="0.85" stroke-linecap="round"/><line x1="454.6" y1="105.7" x2="451.5" y2="102.7" stroke="#8e9a9b" stroke-width="1.3" stroke-opacity="0.85" stroke-linecap="round"/><line x1="420.1" y1="113.6" x2="414.6" y2="110.5" stroke="#eceeee" stroke-width="1.2" stroke-opacity="0.85" stroke-linecap="round"/><line x1="444.4" y1="101.6" x2="442.6" y2="97.4" stroke="#4e5a5a" stroke-width="1.5" stroke-opacity="0.85" stroke-linecap="round"/><line x1="484.1" y1="134.2" x2="488.9" y2="134.2" stroke="#dfe4e4" stroke-width="1.1" stroke-opacity="0.85" stroke-linecap="round"/><line x1="455.7" y1="135.0" x2="449.8" y2="141.4" stroke="#8e9a9b" stroke-width="1.4" stroke-opacity="0.85" stroke-linecap="round"/><line x1="427.3" y1="118.6" x2="425.2" y2="115.5" stroke="#7a8888" stroke-width="1.1" stroke-opacity="0.85" stroke-linecap="round"/><line x1="490.7" y1="156.0" x2="492.4" y2="158.7" stroke="#6f7d7e" stroke-width="1.4" stroke-opacity="0.85" stroke-linecap="round"/><line x1="415.3" y1="149.5" x2="410.5" y2="152.8" stroke="#5c6a6b" stroke-width="1.6" stroke-opacity="0.85" stroke-linecap="round"/><line x1="490.7" y1="112.9" x2="495.5" y2="110.4" stroke="#6f7d7e" stroke-width="1.1" stroke-opacity="0.85" stroke-linecap="round"/><line x1="478.6" y1="105.7" x2="479.6" y2="100.5" stroke="#f4f6f6" stroke-width="1.1" stroke-opacity="0.85" stroke-linecap="round"/><line x1="440.6" y1="167.4" x2="437.6" y2="172.6" stroke="#c8a8a0" stroke-width="1.5" stroke-opacity="0.85" stroke-linecap="round"/><line x1="503.1" y1="124.2" x2="509.5" y2="124.6" stroke="#4e5a5a" stroke-width="1.3" stroke-opacity="0.85" stroke-linecap="round"/><line x1="444.8" y1="175.8" x2="444.1" y2="181.6" stroke="#5c6a6b" stroke-width="1.6" stroke-opacity="0.85" stroke-linecap="round"/><line x1="485.3" y1="102.6" x2="486.3" y2="98.1" stroke="#7a8888" stroke-width="1.8" stroke-opacity="0.85" stroke-linecap="round"/><line x1="458.2" y1="102.3" x2="457.3" y2="99.0" stroke="#eceeee" stroke-width="1.8" stroke-opacity="0.85" stroke-linecap="round"/><line x1="415.4" y1="122.2" x2="410.5" y2="121.8" stroke="#8e9a9b" stroke-width="1.7" stroke-opacity="0.85" stroke-linecap="round"/><line x1="455.7" y1="125.1" x2="451.5" y2="120.2" stroke="#4e5a5a" stroke-width="1.3" stroke-opacity="0.85" stroke-linecap="round"/><line x1="485.6" y1="118.4" x2="490.1" y2="117.3" stroke="#eceeee" stroke-width="1.1" stroke-opacity="0.85" stroke-linecap="round"/><line x1="498.4" y1="158.6" x2="503.9" y2="158.8" stroke="#dfe4e4" stroke-width="1.5" stroke-opacity="0.85" stroke-linecap="round"/><line x1="450.6" y1="129.8" x2="444.4" y2="128.4" stroke="#eceeee" stroke-width="1.4" stroke-opacity="0.85" stroke-linecap="round"/><line x1="416.3" y1="138.0" x2="413.6" y2="139.6" stroke="#dfe4e4" stroke-width="1.8" stroke-opacity="0.85" stroke-linecap="round"/><line x1="424.3" y1="159.7" x2="420.6" y2="160.3" stroke="#eceeee" stroke-width="1.8" stroke-opacity="0.85" stroke-linecap="round"/><line x1="439.8" y1="167.5" x2="435.0" y2="170.5" stroke="#8e9a9b" stroke-width="1.1" stroke-opacity="0.85" stroke-linecap="round"/><line x1="479.5" y1="144.7" x2="485.2" y2="148.4" stroke="#f4f6f6" stroke-width="1.7" stroke-opacity="0.85" stroke-linecap="round"/><line x1="505.4" y1="113.7" x2="513.1" y2="109.3" stroke="#5c6a6b" stroke-width="1.2" stroke-opacity="0.85" stroke-linecap="round"/><line x1="431.2" y1="120.9" x2="425.4" y2="115.1" stroke="#c8a8a0" stroke-width="1.2" stroke-opacity="0.85" stroke-linecap="round"/><line x1="500.6" y1="115.3" x2="504.1" y2="112.8" stroke="#f4f6f6" stroke-width="1.2" stroke-opacity="0.85" stroke-linecap="round"/><line x1="474.9" y1="163.6" x2="477.6" y2="166.5" stroke="#5c6a6b" stroke-width="1.7" stroke-opacity="0.85" stroke-linecap="round"/><line x1="430.9" y1="97.5" x2="429.6" y2="89.1" stroke="#f4f6f6" stroke-width="1.6" stroke-opacity="0.85" stroke-linecap="round"/><line x1="455.9" y1="107.1" x2="455.2" y2="101.8" stroke="#5c6a6b" stroke-width="1.7" stroke-opacity="0.85" stroke-linecap="round"/><line x1="463.1" y1="127.1" x2="463.8" y2="122.1" stroke="#dfe4e4" stroke-width="1.1" stroke-opacity="0.85" stroke-linecap="round"/><line x1="500.3" y1="121.9" x2="506.6" y2="118.9" stroke="#eceeee" stroke-width="1.2" stroke-opacity="0.85" stroke-linecap="round"/><line x1="422.9" y1="139.5" x2="417.0" y2="145.3" stroke="#c8a8a0" stroke-width="1.5" stroke-opacity="0.85" stroke-linecap="round"/><line x1="488.4" y1="142.7" x2="496.7" y2="141.5" stroke="#f4f6f6" stroke-width="1.2" stroke-opacity="0.85" stroke-linecap="round"/><line x1="459.2" y1="159.9" x2="459.4" y2="167.5" stroke="#7a8888" stroke-width="1.0" stroke-opacity="0.85" stroke-linecap="round"/><line x1="488.8" y1="118.9" x2="493.4" y2="118.9" stroke="#f4f6f6" stroke-width="1.2" stroke-opacity="0.85" stroke-linecap="round"/><line x1="456.6" y1="129.3" x2="451.6" y2="123.8" stroke="#f4f6f6" stroke-width="1.3" stroke-opacity="0.85" stroke-linecap="round"/><line x1="466.9" y1="135.5" x2="470.4" y2="135.3" stroke="#5c6a6b" stroke-width="1.1" stroke-opacity="0.85" stroke-linecap="round"/><line x1="490.0" y1="108.1" x2="492.4" y2="102.3" stroke="#eceeee" stroke-width="1.7" stroke-opacity="0.85" stroke-linecap="round"/><line x1="415.8" y1="119.9" x2="408.4" y2="121.5" stroke="#7a8888" stroke-width="1.3" stroke-opacity="0.85" stroke-linecap="round"/><line x1="456.5" y1="125.4" x2="453.9" y2="118.5" stroke="#dfe4e4" stroke-width="1.7" stroke-opacity="0.85" stroke-linecap="round"/><line x1="493.5" y1="110.1" x2="496.5" y2="108.8" stroke="#eceeee" stroke-width="1.0" stroke-opacity="0.85" stroke-linecap="round"/><line x1="454.5" y1="94.3" x2="456.8" y2="87.3" stroke="#c8a8a0" stroke-width="1.6" stroke-opacity="0.85" stroke-linecap="round"/><line x1="484.9" y1="144.0" x2="490.0" y2="149.0" stroke="#6f7d7e" stroke-width="1.7" stroke-opacity="0.85" stroke-linecap="round"/><line x1="480.7" y1="146.6" x2="488.2" y2="146.9" stroke="#4e5a5a" stroke-width="1.1" stroke-opacity="0.85" stroke-linecap="round"/><line x1="495.2" y1="126.5" x2="502.1" y2="125.6" stroke="#8e9a9b" stroke-width="1.5" stroke-opacity="0.85" stroke-linecap="round"/><line x1="502.0" y1="112.3" x2="505.3" y2="111.3" stroke="#8e9a9b" stroke-width="1.4" stroke-opacity="0.85" stroke-linecap="round"/><line x1="443.9" y1="162.7" x2="442.3" y2="170.9" stroke="#f4f6f6" stroke-width="1.3" stroke-opacity="0.85" stroke-linecap="round"/><line x1="444.1" y1="158.6" x2="440.4" y2="161.7" stroke="#dfe4e4" stroke-width="1.1" stroke-opacity="0.85" stroke-linecap="round"/><line x1="449.2" y1="112.3" x2="444.4" y2="105.0" stroke="#f4f6f6" stroke-width="1.3" stroke-opacity="0.85" stroke-linecap="round"/><line x1="445.6" y1="142.1" x2="439.3" y2="148.0" stroke="#7a8888" stroke-width="1.4" stroke-opacity="0.85" stroke-linecap="round"/><line x1="493.0" y1="107.2" x2="499.1" y2="106.0" stroke="#7a8888" stroke-width="1.6" stroke-opacity="0.85" stroke-linecap="round"/><line x1="484.7" y1="166.7" x2="484.7" y2="170.3" stroke="#dfe4e4" stroke-width="1.7" stroke-opacity="0.85" stroke-linecap="round"/><line x1="488.8" y1="121.6" x2="494.7" y2="116.0" stroke="#8e9a9b" stroke-width="1.8" stroke-opacity="0.85" stroke-linecap="round"/><line x1="501.2" y1="108.2" x2="509.8" y2="108.7" stroke="#eceeee" stroke-width="1.4" stroke-opacity="0.85" stroke-linecap="round"/><line x1="467.1" y1="111.0" x2="470.8" y2="104.0" stroke="#dfe4e4" stroke-width="1.0" stroke-opacity="0.85" stroke-linecap="round"/><line x1="454.5" y1="130.9" x2="447.2" y2="133.6" stroke="#c8a8a0" stroke-width="1.6" stroke-opacity="0.85" stroke-linecap="round"/><line x1="428.4" y1="128.0" x2="423.6" y2="127.0" stroke="#f4f6f6" stroke-width="1.4" stroke-opacity="0.85" stroke-linecap="round"/><line x1="434.6" y1="102.2" x2="426.6" y2="99.7" stroke="#dfe4e4" stroke-width="1.3" stroke-opacity="0.85" stroke-linecap="round"/><line x1="495.6" y1="140.1" x2="502.9" y2="139.4" stroke="#f4f6f6" stroke-width="1.0" stroke-opacity="0.85" stroke-linecap="round"/><line x1="485.6" y1="104.9" x2="489.4" y2="104.0" stroke="#5c6a6b" stroke-width="1.4" stroke-opacity="0.85" stroke-linecap="round"/><line x1="445.5" y1="160.5" x2="443.9" y2="165.5" stroke="#7a8888" stroke-width="1.3" stroke-opacity="0.85" stroke-linecap="round"/><line x1="480.7" y1="87.8" x2="487.2" y2="83.0" stroke="#dfe4e4" stroke-width="1.8" stroke-opacity="0.85" stroke-linecap="round"/><line x1="437.2" y1="112.6" x2="433.2" y2="111.6" stroke="#dfe4e4" stroke-width="1.3" stroke-opacity="0.85" stroke-linecap="round"/><line x1="452.8" y1="107.0" x2="448.8" y2="103.1" stroke="#5c6a6b" stroke-width="1.8" stroke-opacity="0.85" stroke-linecap="round"/><line x1="445.3" y1="123.3" x2="440.9" y2="123.6" stroke="#c8a8a0" stroke-width="1.8" stroke-opacity="0.85" stroke-linecap="round"/><line x1="448.8" y1="151.4" x2="447.7" y2="155.2" stroke="#c8a8a0" stroke-width="1.7" stroke-opacity="0.85" stroke-linecap="round"/><line x1="459.1" y1="101.5" x2="459.3" y2="95.7" stroke="#f4f6f6" stroke-width="1.5" stroke-opacity="0.85" stroke-linecap="round"/><line x1="427.0" y1="164.7" x2="418.7" y2="168.0" stroke="#4e5a5a" stroke-width="1.1" stroke-opacity="0.85" stroke-linecap="round"/><line x1="448.3" y1="92.6" x2="449.3" y2="85.7" stroke="#c8a8a0" stroke-width="1.7" stroke-opacity="0.85" stroke-linecap="round"/><line x1="446.1" y1="112.3" x2="445.1" y2="105.4" stroke="#4e5a5a" stroke-width="1.5" stroke-opacity="0.85" stroke-linecap="round"/><line x1="487.9" y1="97.4" x2="489.5" y2="94.3" stroke="#c8a8a0" stroke-width="1.7" stroke-opacity="0.85" stroke-linecap="round"/><line x1="486.4" y1="109.8" x2="489.9" y2="103.3" stroke="#4e5a5a" stroke-width="1.5" stroke-opacity="0.85" stroke-linecap="round"/><line x1="431.8" y1="154.0" x2="427.6" y2="157.1" stroke="#5c6a6b" stroke-width="1.4" stroke-opacity="0.85" stroke-linecap="round"/><line x1="475.4" y1="157.2" x2="475.2" y2="160.8" stroke="#6f7d7e" stroke-width="1.5" stroke-opacity="0.85" stroke-linecap="round"/><line x1="468.5" y1="167.3" x2="473.9" y2="172.8" stroke="#f4f6f6" stroke-width="1.5" stroke-opacity="0.85" stroke-linecap="round"/><line x1="441.6" y1="143.9" x2="438.3" y2="149.1" stroke="#5c6a6b" stroke-width="1.7" stroke-opacity="0.85" stroke-linecap="round"/><line x1="487.4" y1="149.3" x2="491.7" y2="150.5" stroke="#7a8888" stroke-width="1.1" stroke-opacity="0.85" stroke-linecap="round"/><line x1="467.0" y1="130.8" x2="471.2" y2="127.2" stroke="#dfe4e4" stroke-width="1.5" stroke-opacity="0.85" stroke-linecap="round"/><line x1="441.9" y1="163.4" x2="439.0" y2="171.3" stroke="#4e5a5a" stroke-width="1.7" stroke-opacity="0.85" stroke-linecap="round"/><line x1="456.9" y1="101.5" x2="457.5" y2="95.9" stroke="#dfe4e4" stroke-width="1.2" stroke-opacity="0.85" stroke-linecap="round"/><line x1="464.5" y1="109.8" x2="466.0" y2="105.6" stroke="#c8a8a0" stroke-width="1.7" stroke-opacity="0.85" stroke-linecap="round"/><line x1="467.9" y1="96.8" x2="470.3" y2="90.3" stroke="#dfe4e4" stroke-width="1.2" stroke-opacity="0.85" stroke-linecap="round"/><line x1="427.4" y1="158.6" x2="423.2" y2="166.4" stroke="#7a8888" stroke-width="1.0" stroke-opacity="0.85" stroke-linecap="round"/><line x1="420.9" y1="114.4" x2="412.8" y2="112.1" stroke="#eceeee" stroke-width="1.1" stroke-opacity="0.85" stroke-linecap="round"/><line x1="482.6" y1="149.3" x2="484.6" y2="153.0" stroke="#8e9a9b" stroke-width="1.1" stroke-opacity="0.85" stroke-linecap="round"/><line x1="445.5" y1="170.5" x2="444.1" y2="174.1" stroke="#eceeee" stroke-width="1.2" stroke-opacity="0.85" stroke-linecap="round"/><line x1="459.0" y1="122.4" x2="459.4" y2="114.2" stroke="#eceeee" stroke-width="1.5" stroke-opacity="0.85" stroke-linecap="round"/><line x1="492.7" y1="117.4" x2="495.1" y2="114.2" stroke="#6f7d7e" stroke-width="1.4" stroke-opacity="0.85" stroke-linecap="round"/><line x1="487.5" y1="105.6" x2="488.8" y2="101.8" stroke="#8e9a9b" stroke-width="1.4" stroke-opacity="0.85" stroke-linecap="round"/><line x1="498.0" y1="151.8" x2="502.8" y2="154.7" stroke="#6f7d7e" stroke-width="1.2" stroke-opacity="0.85" stroke-linecap="round"/><line x1="454.3" y1="132.2" x2="449.2" y2="134.1" stroke="#8e9a9b" stroke-width="1.2" stroke-opacity="0.85" stroke-linecap="round"/><line x1="437.2" y1="94.5" x2="435.6" y2="86.4" stroke="#4e5a5a" stroke-width="1.0" stroke-opacity="0.85" stroke-linecap="round"/><line x1="449.1" y1="165.2" x2="446.0" y2="172.8" stroke="#8e9a9b" stroke-width="1.1" stroke-opacity="0.85" stroke-linecap="round"/><line x1="492.4" y1="163.8" x2="493.8" y2="169.5" stroke="#7a8888" stroke-width="1.2" stroke-opacity="0.85" stroke-linecap="round"/><line x1="498.9" y1="141.2" x2="507.2" y2="138.8" stroke="#c8a8a0" stroke-width="1.0" stroke-opacity="0.85" stroke-linecap="round"/><line x1="496.7" y1="150.7" x2="501.4" y2="154.1" stroke="#6f7d7e" stroke-width="1.7" stroke-opacity="0.85" stroke-linecap="round"/><line x1="492.7" y1="153.5" x2="496.8" y2="155.4" stroke="#8e9a9b" stroke-width="1.7" stroke-opacity="0.85" stroke-linecap="round"/><line x1="445.7" y1="147.0" x2="443.7" y2="154.4" stroke="#5c6a6b" stroke-width="1.4" stroke-opacity="0.85" stroke-linecap="round"/><line x1="473.3" y1="97.5" x2="473.7" y2="90.4" stroke="#eceeee" stroke-width="1.4" stroke-opacity="0.85" stroke-linecap="round"/><line x1="461.4" y1="91.0" x2="460.7" y2="87.6" stroke="#f4f6f6" stroke-width="1.4" stroke-opacity="0.85" stroke-linecap="round"/><line x1="442.0" y1="106.7" x2="436.0" y2="102.5" stroke="#4e5a5a" stroke-width="1.4" stroke-opacity="0.85" stroke-linecap="round"/><line x1="476.5" y1="172.9" x2="476.6" y2="180.8" stroke="#8e9a9b" stroke-width="1.1" stroke-opacity="0.85" stroke-linecap="round"/><line x1="479.0" y1="148.2" x2="482.1" y2="151.3" stroke="#f4f6f6" stroke-width="1.8" stroke-opacity="0.85" stroke-linecap="round"/><line x1="447.7" y1="152.6" x2="444.4" y2="156.8" stroke="#7a8888" stroke-width="1.4" stroke-opacity="0.85" stroke-linecap="round"/><line x1="440.7" y1="122.5" x2="432.3" y2="119.9" stroke="#dfe4e4" stroke-width="1.6" stroke-opacity="0.85" stroke-linecap="round"/><line x1="471.0" y1="156.3" x2="470.8" y2="159.8" stroke="#4e5a5a" stroke-width="1.5" stroke-opacity="0.85" stroke-linecap="round"/><line x1="436.5" y1="128.4" x2="432.3" y2="129.9" stroke="#7a8888" stroke-width="1.1" stroke-opacity="0.85" stroke-linecap="round"/><line x1="421.3" y1="119.9" x2="414.4" y2="117.8" stroke="#5c6a6b" stroke-width="1.0" stroke-opacity="0.85" stroke-linecap="round"/><line x1="478.4" y1="111.2" x2="480.6" y2="103.2" stroke="#6f7d7e" stroke-width="1.0" stroke-opacity="0.85" stroke-linecap="round"/><line x1="451.6" y1="120.9" x2="449.1" y2="113.1" stroke="#4e5a5a" stroke-width="1.6" stroke-opacity="0.85" stroke-linecap="round"/><line x1="506.6" y1="123.1" x2="509.8" y2="120.6" stroke="#8e9a9b" stroke-width="1.5" stroke-opacity="0.85" stroke-linecap="round"/><line x1="421.8" y1="139.0" x2="413.7" y2="136.4" stroke="#c8a8a0" stroke-width="1.5" stroke-opacity="0.85" stroke-linecap="round"/><circle cx="441.5" cy="146.0" r="2.5" fill="#55625f" opacity="0.5"/><circle cx="469.2" cy="131.1" r="2.6" fill="#55625f" opacity="0.5"/><circle cx="430.9" cy="153.3" r="3.0" fill="#55625f" opacity="0.5"/><circle cx="492.3" cy="140.1" r="1.6" fill="#55625f" opacity="0.5"/><circle cx="495.4" cy="112.2" r="2.9" fill="#55625f" opacity="0.5"/><circle cx="450.8" cy="97.2" r="2.6" fill="#55625f" opacity="0.5"/><circle cx="435.2" cy="114.3" r="2.2" fill="#55625f" opacity="0.5"/><circle cx="465.7" cy="123.3" r="2.9" fill="#55625f" opacity="0.5"/><circle cx="444.6" cy="129.6" r="2.8" fill="#55625f" opacity="0.5"/><circle cx="434.9" cy="99.4" r="2.8" fill="#55625f" opacity="0.5"/><circle cx="442.1" cy="171.2" r="2.7" fill="#55625f" opacity="0.5"/><circle cx="447.8" cy="115.3" r="1.7" fill="#55625f" opacity="0.5"/><circle cx="497.8" cy="126.3" r="2.0" fill="#55625f" opacity="0.5"/><circle cx="428.2" cy="104.6" r="2.8" fill="#55625f" opacity="0.5"/><circle cx="423.6" cy="137.5" r="2.4" fill="#55625f" opacity="0.5"/><circle cx="462.5" cy="132.2" r="2.1" fill="#55625f" opacity="0.5"/><circle cx="429.7" cy="164.1" r="2.8" fill="#55625f" opacity="0.5"/><circle cx="466.9" cy="107.2" r="2.9" fill="#55625f" opacity="0.5"/><circle cx="430.7" cy="99.1" r="2.4" fill="#55625f" opacity="0.5"/><circle cx="493.6" cy="139.2" r="1.7" fill="#55625f" opacity="0.5"/><circle cx="489.7" cy="157.6" r="1.6" fill="#55625f" opacity="0.5"/><circle cx="495.7" cy="122.0" r="1.5" fill="#55625f" opacity="0.5"/><circle cx="500.6" cy="115.2" r="2.0" fill="#55625f" opacity="0.5"/><circle cx="488.4" cy="126.1" r="3.0" fill="#55625f" opacity="0.5"/><circle cx="481.2" cy="101.5" r="2.5" fill="#55625f" opacity="0.5"/><circle cx="468.4" cy="130.3" r="2.3" fill="#55625f" opacity="0.5"/><circle cx="441.0" cy="101.8" r="2.9" fill="#55625f" opacity="0.5"/><circle cx="447.2" cy="92.6" r="3.0" fill="#55625f" opacity="0.5"/><circle cx="461.6" cy="149.6" r="2.0" fill="#55625f" opacity="0.5"/><circle cx="425.4" cy="115.2" r="2.8" fill="#55625f" opacity="0.5"/><circle cx="440.9" cy="171.7" r="1.8" fill="#55625f" opacity="0.5"/><circle cx="454.9" cy="94.9" r="1.7" fill="#55625f" opacity="0.5"/><circle cx="462.8" cy="118.5" r="2.3" fill="#55625f" opacity="0.5"/><circle cx="432.1" cy="113.0" r="2.0" fill="#55625f" opacity="0.5"/><circle cx="452.1" cy="167.4" r="2.4" fill="#55625f" opacity="0.5"/><circle cx="496.4" cy="110.2" r="1.9" fill="#55625f" opacity="0.5"/><circle cx="419.3" cy="134.7" r="1.7" fill="#55625f" opacity="0.5"/><circle cx="470.7" cy="167.1" r="2.2" fill="#55625f" opacity="0.5"/><circle cx="437.8" cy="144.3" r="2.6" fill="#55625f" opacity="0.5"/><circle cx="448.2" cy="132.6" r="1.9" fill="#55625f" opacity="0.5"/><circle cx="476.3" cy="107.5" r="2.9" fill="#55625f" opacity="0.5"/><circle cx="445.7" cy="104.2" r="1.6" fill="#55625f" opacity="0.5"/><circle cx="498.8" cy="123.7" r="2.2" fill="#55625f" opacity="0.5"/><circle cx="487.1" cy="106.0" r="2.0" fill="#55625f" opacity="0.5"/><circle cx="461.0" cy="107.8" r="2.0" fill="#55625f" opacity="0.5"/><circle cx="431.8" cy="106.1" r="2.6" fill="#55625f" opacity="0.5"/><circle cx="470.8" cy="126.6" r="2.2" fill="#55625f" opacity="0.5"/><circle cx="471.8" cy="150.5" r="1.5" fill="#55625f" opacity="0.5"/><circle cx="494.8" cy="128.3" r="2.0" fill="#55625f" opacity="0.5"/><circle cx="454.2" cy="126.0" r="2.1" fill="#55625f" opacity="0.5"/><circle cx="420.3" cy="139.7" r="1.9" fill="#55625f" opacity="0.5"/><circle cx="486.7" cy="134.9" r="1.9" fill="#55625f" opacity="0.5"/><circle cx="493.1" cy="126.8" r="1.6" fill="#55625f" opacity="0.5"/><circle cx="453.5" cy="172.9" r="2.9" fill="#55625f" opacity="0.5"/><circle cx="475.7" cy="97.4" r="1.9" fill="#55625f" opacity="0.5"/><circle cx="430.8" cy="119.3" r="2.5" fill="#55625f" opacity="0.5"/><circle cx="453.1" cy="148.1" r="2.7" fill="#55625f" opacity="0.5"/><circle cx="450.2" cy="142.3" r="1.9" fill="#55625f" opacity="0.5"/><circle cx="455.9" cy="145.5" r="1.6" fill="#55625f" opacity="0.5"/><circle cx="461.9" cy="132.2" r="1.8" fill="#55625f" opacity="0.5"/><circle cx="435.4" cy="164.4" r="2.0" fill="#55625f" opacity="0.5"/><circle cx="429.7" cy="110.5" r="2.3" fill="#55625f" opacity="0.5"/><circle cx="450.4" cy="117.1" r="2.0" fill="#55625f" opacity="0.5"/><circle cx="432.2" cy="132.5" r="2.4" fill="#55625f" opacity="0.5"/><circle cx="419.4" cy="141.1" r="2.0" fill="#55625f" opacity="0.5"/><circle cx="423.6" cy="151.6" r="2.0" fill="#55625f" opacity="0.5"/><circle cx="466.1" cy="149.6" r="2.5" fill="#55625f" opacity="0.5"/><circle cx="440.9" cy="102.8" r="2.3" fill="#55625f" opacity="0.5"/><circle cx="469.5" cy="117.3" r="2.8" fill="#55625f" opacity="0.5"/><circle cx="495.4" cy="150.7" r="2.3" fill="#55625f" opacity="0.5"/></g>
<line x1="451.0" y1="93.2" x2="449.3" y2="86.4" stroke="#d0aaa4" stroke-width="3"/><polygon points="449.6,92.4 448.3,87.9 444.6,87.1 444.1,83.9 447.0,82.5 448.4,82.7 449.5,81.9 452.7,81.8 453.8,84.8 450.9,87.3 451.8,91.9" fill="#9e1d22" stroke="#9e1d22" stroke-width="1.2"/><circle cx="446.5" cy="84.9" r="1.4" fill="#c0393f" opacity="0.75"/><circle cx="450.3" cy="85.2" r="1.4" fill="#5a0a0e"/>
<line x1="477.1" y1="95.6" x2="480.0" y2="89.2" stroke="#d0aaa4" stroke-width="3"/><polygon points="476.5,94.2 478.2,89.8 475.8,86.9 477.5,84.2 480.6,84.8 481.6,85.8 482.9,85.9 485.5,87.8 484.5,90.8 480.7,91.0 478.5,95.1" fill="#8a171b" stroke="#8a171b" stroke-width="1.2"/><circle cx="478.7" cy="86.3" r="1.4" fill="#c0393f" opacity="0.75"/><circle cx="481.5" cy="89.0" r="1.4" fill="#5a0a0e"/>
<line x1="500.5" y1="132.3" x2="507.5" y2="132.4" stroke="#d0aaa4" stroke-width="3"/><polygon points="501.6,131.3 506.2,131.0 508.0,127.7 511.1,128.0 511.8,131.2 511.2,132.4 511.7,133.7 511.0,136.9 507.9,137.2 506.2,133.8 501.5,133.5" fill="#8a171b" stroke="#8a171b" stroke-width="1.2"/><circle cx="509.6" cy="130.0" r="1.4" fill="#c0393f" opacity="0.75"/><circle cx="508.3" cy="133.7" r="1.4" fill="#5a0a0e"/>
<line x1="487.3" y1="161.7" x2="491.9" y2="166.9" stroke="#d0aaa4" stroke-width="3"/><polygon points="488.8,161.8 492.1,165.1 495.8,164.1 497.6,166.6 495.7,169.2 494.4,169.7 493.8,171.0 491.0,172.6 488.7,170.4 490.1,166.9 487.1,163.3" fill="#9e1d22" stroke="#9e1d22" stroke-width="1.2"/><circle cx="495.1" cy="166.9" r="1.4" fill="#c0393f" opacity="0.75"/><circle cx="491.6" cy="168.4" r="1.4" fill="#5a0a0e"/>
<line x1="470.5" y1="170.7" x2="472.2" y2="177.5" stroke="#d0aaa4" stroke-width="3"/><polygon points="471.8,171.5 473.2,175.9 476.9,176.7 477.4,179.9 474.5,181.3 473.1,181.1 472.0,182.0 468.8,182.1 467.7,179.1 470.6,176.6 469.6,172.0" fill="#8a171b" stroke="#8a171b" stroke-width="1.2"/><circle cx="475.0" cy="179.0" r="1.4" fill="#c0393f" opacity="0.75"/><circle cx="471.2" cy="178.7" r="1.4" fill="#5a0a0e"/>
<line x1="446.7" y1="169.5" x2="444.3" y2="176.1" stroke="#d0aaa4" stroke-width="3"/><polygon points="447.4,170.9 446.0,175.4 448.6,178.2 447.2,181.0 444.0,180.5 443.0,179.6 441.6,179.7 438.9,177.9 439.7,174.9 443.5,174.5 445.3,170.2" fill="#8a171b" stroke="#8a171b" stroke-width="1.2"/><circle cx="445.8" cy="178.9" r="1.4" fill="#c0393f" opacity="0.75"/><circle cx="442.8" cy="176.5" r="1.4" fill="#5a0a0e"/>
<line x1="435.4" y1="163.1" x2="431.0" y2="168.6" stroke="#d0aaa4" stroke-width="3"/><polygon points="435.6,164.7 432.9,168.5 434.4,171.9 432.2,174.1 429.3,172.7 428.7,171.5 427.3,171.1 425.3,168.6 427.0,165.9 430.7,166.7 433.9,163.3" fill="#9e1d22" stroke="#9e1d22" stroke-width="1.2"/><circle cx="431.5" cy="171.7" r="1.4" fill="#c0393f" opacity="0.75"/><circle cx="429.5" cy="168.5" r="1.4" fill="#5a0a0e"/>
<line x1="443.4" y1="91.5" x2="438.2" y2="79.2" stroke="#cfa9a2" stroke-width="3.2"/><polygon points="439.9,86.8 437.2,81.4 432.3,81.1 431.1,77.2 434.5,74.8 436.3,74.7 437.6,73.5 441.7,72.7 443.6,76.3 440.4,80.0 442.5,85.7" fill="#9e1d22" stroke="#9e1d22" stroke-width="1.2"/><circle cx="434.3" cy="77.8" r="1.9" fill="#c0393f" opacity="0.75"/><circle cx="439.3" cy="77.5" r="1.8" fill="#5a0a0e"/>
<line x1="456.9" y1="88.1" x2="455.7" y2="73.8" stroke="#cfa9a2" stroke-width="3.2"/><polygon points="454.9,81.6 454.1,75.6 449.5,73.8 449.6,69.7 453.6,68.4 455.3,69.0 456.9,68.2 461.0,68.7 461.8,72.7 457.6,75.3 457.8,81.4" fill="#9e1d22" stroke="#9e1d22" stroke-width="1.2"/><circle cx="452.4" cy="71.3" r="1.9" fill="#c0393f" opacity="0.75"/><circle cx="457.3" cy="72.6" r="1.8" fill="#5a0a0e"/>
<line x1="468.9" y1="88.8" x2="471.7" y2="74.5" stroke="#cfa9a2" stroke-width="3.2"/><polygon points="468.8,81.8 469.7,75.8 465.8,72.8 467.0,68.8 471.1,68.8 472.6,69.7 474.4,69.4 478.2,71.0 477.9,75.1 473.1,76.4 471.6,82.3" fill="#8a171b" stroke="#8a171b" stroke-width="1.2"/><circle cx="469.2" cy="71.2" r="1.9" fill="#c0393f" opacity="0.75"/><circle cx="473.5" cy="73.7" r="1.8" fill="#5a0a0e"/>
<line x1="487.6" y1="97.3" x2="497.1" y2="85.2" stroke="#cfa9a2" stroke-width="3.2"/><polygon points="491.2,90.4 494.7,85.4 492.6,81.0 495.4,78.0 499.2,79.8 500.1,81.4 501.8,81.9 504.4,85.1 502.3,88.5 497.4,87.6 493.5,92.1" fill="#a52428" stroke="#a52428" stroke-width="1.2"/><circle cx="496.3" cy="81.1" r="1.9" fill="#c0393f" opacity="0.75"/><circle cx="499.1" cy="85.3" r="1.8" fill="#5a0a0e"/>
<line x1="494.8" y1="104.5" x2="504.2" y2="96.9" stroke="#cfa9a2" stroke-width="3.2"/><polygon points="497.3,100.6 501.8,96.6 500.8,91.8 504.3,89.6 507.5,92.2 508.0,93.9 509.6,94.8 511.4,98.5 508.5,101.4 504.0,99.3 499.1,102.9" fill="#931a1f" stroke="#931a1f" stroke-width="1.2"/><circle cx="504.4" cy="92.8" r="1.9" fill="#c0393f" opacity="0.75"/><circle cx="506.1" cy="97.5" r="1.8" fill="#5a0a0e"/>
<line x1="498.4" y1="109.6" x2="510.0" y2="102.8" stroke="#cfa9a2" stroke-width="3.2"/><polygon points="502.7,105.4 507.7,102.1 507.3,97.2 511.1,95.5 513.9,98.5 514.2,100.3 515.6,101.4 516.9,105.3 513.6,107.8 509.5,105.1 504.1,107.9" fill="#931a1f" stroke="#931a1f" stroke-width="1.2"/><circle cx="510.8" cy="98.7" r="1.9" fill="#c0393f" opacity="0.75"/><circle cx="511.8" cy="103.6" r="1.8" fill="#5a0a0e"/>
<line x1="501.7" y1="116.7" x2="515.6" y2="111.5" stroke="#cfa9a2" stroke-width="3.2"/><polygon points="507.9,112.9 513.4,110.4 514.0,105.6 517.9,104.6 520.2,108.1 520.1,109.8 521.3,111.2 521.9,115.3 518.3,117.1 514.7,113.7 508.9,115.5" fill="#a52428" stroke="#a52428" stroke-width="1.2"/><circle cx="517.1" cy="107.7" r="1.9" fill="#c0393f" opacity="0.75"/><circle cx="517.2" cy="112.7" r="1.8" fill="#5a0a0e"/>
<line x1="503.7" y1="123.4" x2="512.8" y2="121.6" stroke="#cfa9a2" stroke-width="3.2"/><polygon points="505.0,121.7 510.9,120.2 512.2,115.4 516.2,115.1 517.9,118.9 517.6,120.6 518.5,122.1 518.5,126.3 514.6,127.5 511.6,123.6 505.6,124.5" fill="#8a171b" stroke="#8a171b" stroke-width="1.2"/><circle cx="514.9" cy="118.0" r="1.9" fill="#c0393f" opacity="0.75"/><circle cx="514.2" cy="123.0" r="1.8" fill="#5a0a0e"/>
<line x1="503.5" y1="141.3" x2="515.7" y2="144.0" stroke="#cfa9a2" stroke-width="3.2"/><polygon points="508.5,141.0 514.5,141.9 517.6,138.1 521.5,139.4 521.5,143.5 520.5,145.0 520.8,146.8 519.0,150.6 515.0,150.1 513.7,145.4 507.9,143.7" fill="#9e1d22" stroke="#9e1d22" stroke-width="1.2"/><circle cx="519.1" cy="141.6" r="1.9" fill="#c0393f" opacity="0.75"/><circle cx="516.5" cy="145.8" r="1.8" fill="#5a0a0e"/>
<line x1="494.8" y1="159.5" x2="504.2" y2="167.1" stroke="#cfa9a2" stroke-width="3.2"/><polygon points="499.1,161.1 504.0,164.7 508.5,162.6 511.4,165.5 509.6,169.2 508.0,170.1 507.5,171.8 504.3,174.4 500.8,172.2 501.8,167.4 497.3,163.4" fill="#9e1d22" stroke="#9e1d22" stroke-width="1.2"/><circle cx="508.3" cy="166.4" r="1.9" fill="#c0393f" opacity="0.75"/><circle cx="504.1" cy="169.0" r="1.8" fill="#5a0a0e"/>
<line x1="479.4" y1="171.8" x2="484.0" y2="181.4" stroke="#cfa9a2" stroke-width="3.2"/><polygon points="481.9,173.9 484.8,179.2 489.8,179.3 491.1,183.2 487.8,185.7 486.0,185.8 484.8,187.1 480.8,188.1 478.6,184.6 481.7,180.7 479.4,175.1" fill="#a52428" stroke="#a52428" stroke-width="1.2"/><circle cx="487.9" cy="182.6" r="1.9" fill="#c0393f" opacity="0.75"/><circle cx="482.9" cy="183.1" r="1.8" fill="#5a0a0e"/>
<line x1="463.1" y1="175.9" x2="463.9" y2="188.7" stroke="#cfa9a2" stroke-width="3.2"/><polygon points="464.9,180.9 465.6,187.0 470.1,188.9 469.9,193.0 465.9,194.1 464.2,193.5 462.6,194.3 458.5,193.7 457.8,189.6 462.1,187.2 462.0,181.1" fill="#a52428" stroke="#a52428" stroke-width="1.2"/><circle cx="467.1" cy="191.3" r="1.9" fill="#c0393f" opacity="0.75"/><circle cx="462.3" cy="189.9" r="1.8" fill="#5a0a0e"/>
<line x1="452.0" y1="175.2" x2="449.6" y2="187.2" stroke="#cfa9a2" stroke-width="3.2"/><polygon points="452.5,180.0 451.6,186.0 455.5,189.0 454.3,192.9 450.1,192.9 448.7,192.0 446.9,192.3 443.1,190.7 443.4,186.6 448.2,185.3 449.7,179.4" fill="#a52428" stroke="#a52428" stroke-width="1.2"/><circle cx="452.1" cy="190.5" r="1.9" fill="#c0393f" opacity="0.75"/><circle cx="447.8" cy="188.0" r="1.8" fill="#5a0a0e"/>
<line x1="439.1" y1="170.4" x2="433.7" y2="180.0" stroke="#cfa9a2" stroke-width="3.2"/><polygon points="438.7,174.0 436.1,179.4 438.8,183.5 436.5,186.8 432.5,185.6 431.4,184.2 429.6,184.0 426.5,181.2 428.1,177.5 433.0,177.7 436.2,172.6" fill="#9e1d22" stroke="#9e1d22" stroke-width="1.2"/><circle cx="435.1" cy="183.9" r="1.9" fill="#c0393f" opacity="0.75"/><circle cx="431.8" cy="180.1" r="1.8" fill="#5a0a0e"/>
<line x1="427.5" y1="161.1" x2="419.2" y2="168.4" stroke="#cfa9a2" stroke-width="3.2"/><polygon points="425.9,164.4 421.6,168.6 422.9,173.4 419.5,175.8 416.2,173.3 415.6,171.6 414.0,170.8 412.0,167.2 414.7,164.2 419.3,166.0 424.1,162.2" fill="#9e1d22" stroke="#9e1d22" stroke-width="1.2"/><circle cx="419.2" cy="172.5" r="1.9" fill="#c0393f" opacity="0.75"/><circle cx="417.3" cy="167.9" r="1.8" fill="#5a0a0e"/>
<line x1="420.9" y1="151.2" x2="409.1" y2="156.9" stroke="#cfa9a2" stroke-width="3.2"/><polygon points="416.7,154.9 411.4,157.8 411.3,162.7 407.5,164.1 404.9,160.8 404.8,159.1 403.5,157.9 402.5,153.8 406.0,151.6 409.9,154.6 415.5,152.3" fill="#9e1d22" stroke="#9e1d22" stroke-width="1.2"/><circle cx="408.0" cy="160.9" r="1.9" fill="#c0393f" opacity="0.75"/><circle cx="407.4" cy="155.9" r="1.8" fill="#5a0a0e"/>
<line x1="418.1" y1="143.9" x2="407.7" y2="146.8" stroke="#cfa9a2" stroke-width="3.2"/><polygon points="415.5,146.1 409.8,148.0 408.9,152.9 404.8,153.5 402.9,149.9 403.1,148.1 402.0,146.7 401.8,142.5 405.6,141.0 408.9,144.7 414.8,143.3" fill="#a52428" stroke="#a52428" stroke-width="1.2"/><circle cx="405.9" cy="150.5" r="1.9" fill="#c0393f" opacity="0.75"/><circle cx="406.2" cy="145.5" r="1.8" fill="#5a0a0e"/>
<line x1="416.7" y1="135.7" x2="403.4" y2="136.8" stroke="#cfa9a2" stroke-width="3.2"/><polygon points="411.2,137.6 405.2,138.4 403.4,143.0 399.3,142.9 398.1,138.9 398.6,137.2 397.8,135.6 398.3,131.5 402.3,130.7 404.9,134.9 410.9,134.7" fill="#931a1f" stroke="#931a1f" stroke-width="1.2"/><circle cx="400.9" cy="140.1" r="1.9" fill="#c0393f" opacity="0.75"/><circle cx="402.2" cy="135.2" r="1.8" fill="#5a0a0e"/>
<line x1="417.6" y1="122.0" x2="401.8" y2="118.3" stroke="#cfa9a2" stroke-width="3.2"/><polygon points="408.9,121.5 403.0,120.4 399.8,124.2 396.0,122.9 396.0,118.7 397.0,117.2 396.8,115.5 398.6,111.7 402.6,112.2 403.8,117.0 409.6,118.7" fill="#931a1f" stroke="#931a1f" stroke-width="1.2"/><circle cx="398.4" cy="120.7" r="1.9" fill="#c0393f" opacity="0.75"/><circle cx="401.1" cy="116.5" r="1.8" fill="#5a0a0e"/>
<line x1="420.7" y1="113.3" x2="408.6" y2="107.5" stroke="#cfa9a2" stroke-width="3.2"/><polygon points="414.9,112.1 409.3,109.8 405.4,112.9 401.9,110.7 402.9,106.7 404.2,105.5 404.3,103.7 406.8,100.4 410.7,101.7 410.8,106.6 416.1,109.5" fill="#9e1d22" stroke="#9e1d22" stroke-width="1.2"/><circle cx="404.8" cy="109.2" r="1.9" fill="#c0393f" opacity="0.75"/><circle cx="408.3" cy="105.6" r="1.8" fill="#5a0a0e"/>
<line x1="427.6" y1="102.7" x2="419.4" y2="95.4" stroke="#cfa9a2" stroke-width="3.2"/><polygon points="424.2,101.6 419.5,97.8 414.9,99.6 412.2,96.6 414.2,93.0 415.8,92.2 416.4,90.5 419.8,88.1 423.1,90.4 421.8,95.2 426.1,99.5" fill="#931a1f" stroke="#931a1f" stroke-width="1.2"/><circle cx="415.3" cy="95.9" r="1.9" fill="#c0393f" opacity="0.75"/><circle cx="419.7" cy="93.4" r="1.8" fill="#5a0a0e"/>
<line x1="435.0" y1="96.2" x2="427.9" y2="86.2" stroke="#cfa9a2" stroke-width="3.2"/><polygon points="431.2,93.3 427.4,88.6 422.5,89.3 420.5,85.8 423.3,82.7 425.1,82.3 426.0,80.8 429.8,79.1 432.6,82.2 430.3,86.5 433.5,91.7" fill="#8a171b" stroke="#8a171b" stroke-width="1.2"/><circle cx="423.8" cy="85.8" r="1.9" fill="#c0393f" opacity="0.75"/><circle cx="428.6" cy="84.4" r="1.8" fill="#5a0a0e"/>
<line x1="484.3" y1="169.0" x2="489.2" y2="176.7" stroke="#cfa9a2" stroke-width="3.2"/><polygon points="486.2,169.5 489.8,174.4 494.7,173.9 496.5,177.5 493.5,180.5 491.8,180.8 490.8,182.3 486.9,183.7 484.3,180.5 486.8,176.3 483.8,171.0" fill="#931a1f" stroke="#931a1f" stroke-width="1.2"/><circle cx="493.3" cy="177.4" r="1.9" fill="#c0393f" opacity="0.75"/><circle cx="488.4" cy="178.6" r="1.8" fill="#5a0a0e"/>
<line x1="500.6" y1="150.0" x2="512.6" y2="155.4" stroke="#cfa9a2" stroke-width="3.2"/><polygon points="506.2,150.9 511.8,153.1 515.7,150.0 519.2,152.1 518.3,156.1 517.0,157.4 517.0,159.1 514.5,162.5 510.6,161.2 510.4,156.3 505.0,153.5" fill="#8a171b" stroke="#8a171b" stroke-width="1.2"/><circle cx="516.4" cy="153.7" r="1.9" fill="#c0393f" opacity="0.75"/><circle cx="513.0" cy="157.3" r="1.8" fill="#5a0a0e"/>
<line x1="416.7" y1="128.2" x2="404.5" y2="127.1" stroke="#cfa9a2" stroke-width="3.2"/><polygon points="412.0,129.2 406.0,129.0 403.4,133.2 399.4,132.4 398.9,128.3 399.7,126.7 399.2,125.0 400.4,121.0 404.5,120.9 406.3,125.5 412.3,126.4" fill="#a52428" stroke="#a52428" stroke-width="1.2"/><circle cx="401.5" cy="130.0" r="1.9" fill="#c0393f" opacity="0.75"/><circle cx="403.5" cy="125.4" r="1.8" fill="#5a0a0e"/>
<circle cx="488.5" cy="92.0" r="5.5" fill="#56625f" opacity="0.5"/>
<circle cx="487.0" cy="89.0" r="6.8" fill="#c9a4a2" opacity="0.55"/><circle cx="488.9" cy="90.3" r="3.0" fill="#a52428"/><circle cx="484.9" cy="89.9" r="3.0" fill="#a52428"/><circle cx="487.2" cy="86.7" r="3.0" fill="#a52428"/><circle cx="487.0" cy="89.0" r="2.6" fill="#a52428"/><circle cx="488.8" cy="89.1" r="1.6" fill="#c8343a" opacity="0.8"/><circle cx="485.3" cy="89.3" r="1.5" fill="#5a0a0e"/>
<circle cx="463.2" cy="91.7" r="5.5" fill="#56625f" opacity="0.5"/>
<circle cx="461.7" cy="88.7" r="6.8" fill="#c9a4a2" opacity="0.55"/><circle cx="460.0" cy="90.3" r="3.0" fill="#a52428"/><circle cx="461.2" cy="86.5" r="3.0" fill="#a52428"/><circle cx="463.9" cy="89.4" r="3.0" fill="#a52428"/><circle cx="461.7" cy="88.7" r="2.6" fill="#a52428"/><circle cx="461.3" cy="90.5" r="1.6" fill="#c8343a" opacity="0.8"/><circle cx="461.8" cy="87.0" r="1.5" fill="#5a0a0e"/>
<circle cx="474.3" cy="109.4" r="5.5" fill="#56625f" opacity="0.5"/>
<circle cx="472.8" cy="106.4" r="6.8" fill="#c9a4a2" opacity="0.55"/><circle cx="470.9" cy="105.1" r="3.0" fill="#a52428"/><circle cx="474.9" cy="105.4" r="3.0" fill="#a52428"/><circle cx="472.6" cy="108.7" r="3.0" fill="#a52428"/><circle cx="472.8" cy="106.4" r="2.6" fill="#a52428"/><circle cx="471.0" cy="106.4" r="1.6" fill="#c8343a" opacity="0.8"/><circle cx="474.5" cy="106.1" r="1.5" fill="#5a0a0e"/>
<circle cx="498.0" cy="116.9" r="5.5" fill="#56625f" opacity="0.5"/>
<circle cx="496.5" cy="113.9" r="6.8" fill="#c9a4a2" opacity="0.55"/><circle cx="498.6" cy="112.9" r="3.0" fill="#931a1f"/><circle cx="496.3" cy="116.2" r="3.0" fill="#931a1f"/><circle cx="494.6" cy="112.6" r="3.0" fill="#931a1f"/><circle cx="496.5" cy="113.9" r="2.6" fill="#931a1f"/><circle cx="497.4" cy="112.4" r="1.6" fill="#c8343a" opacity="0.8"/><circle cx="495.9" cy="115.5" r="1.5" fill="#5a0a0e"/>
<circle cx="465.5" cy="130.0" r="5.5" fill="#56625f" opacity="0.5"/>
<circle cx="464.0" cy="127.0" r="6.8" fill="#c9a4a2" opacity="0.55"/><circle cx="466.2" cy="126.3" r="3.0" fill="#a52428"/><circle cx="463.5" cy="129.2" r="3.0" fill="#a52428"/><circle cx="462.3" cy="125.4" r="3.0" fill="#a52428"/><circle cx="464.0" cy="127.0" r="2.6" fill="#a52428"/><circle cx="465.1" cy="125.6" r="1.6" fill="#c8343a" opacity="0.8"/><circle cx="463.2" cy="128.5" r="1.5" fill="#5a0a0e"/>
<circle cx="499.5" cy="137.0" r="5.5" fill="#56625f" opacity="0.5"/>
<circle cx="498.0" cy="134.0" r="6.8" fill="#c9a4a2" opacity="0.55"/><circle cx="499.4" cy="132.2" r="3.0" fill="#a52428"/><circle cx="498.8" cy="136.1" r="3.0" fill="#a52428"/><circle cx="495.7" cy="133.7" r="3.0" fill="#a52428"/><circle cx="498.0" cy="134.0" r="2.6" fill="#a52428"/><circle cx="498.1" cy="132.2" r="1.6" fill="#c8343a" opacity="0.8"/><circle cx="498.2" cy="135.7" r="1.5" fill="#5a0a0e"/>
<circle cx="483.2" cy="150.2" r="5.5" fill="#56625f" opacity="0.5"/>
<circle cx="481.7" cy="147.2" r="6.8" fill="#c9a4a2" opacity="0.55"/><circle cx="483.2" cy="145.4" r="3.0" fill="#a52428"/><circle cx="482.5" cy="149.4" r="3.0" fill="#a52428"/><circle cx="479.4" cy="146.8" r="3.0" fill="#a52428"/><circle cx="481.7" cy="147.2" r="2.6" fill="#a52428"/><circle cx="481.9" cy="145.4" r="1.6" fill="#c8343a" opacity="0.8"/><circle cx="481.9" cy="148.9" r="1.5" fill="#5a0a0e"/>
<circle cx="502.5" cy="157.6" r="5.5" fill="#56625f" opacity="0.5"/>
<circle cx="501.0" cy="154.6" r="6.8" fill="#c9a4a2" opacity="0.55"/><circle cx="499.8" cy="152.7" r="3.0" fill="#8a171b"/><circle cx="503.3" cy="154.5" r="3.0" fill="#8a171b"/><circle cx="499.9" cy="156.6" r="3.0" fill="#8a171b"/><circle cx="501.0" cy="154.6" r="2.6" fill="#8a171b"/><circle cx="499.3" cy="153.9" r="1.6" fill="#c8343a" opacity="0.8"/><circle cx="502.7" cy="155.0" r="1.5" fill="#5a0a0e"/>
<circle cx="460.9" cy="156.1" r="5.5" fill="#56625f" opacity="0.5"/>
<circle cx="459.4" cy="153.1" r="6.8" fill="#c9a4a2" opacity="0.55"/><circle cx="457.2" cy="152.4" r="3.0" fill="#931a1f"/><circle cx="461.1" cy="151.6" r="3.0" fill="#931a1f"/><circle cx="459.9" cy="155.3" r="3.0" fill="#931a1f"/><circle cx="459.4" cy="153.1" r="2.6" fill="#931a1f"/><circle cx="457.7" cy="153.6" r="1.6" fill="#c8343a" opacity="0.8"/><circle cx="460.9" cy="152.3" r="1.5" fill="#5a0a0e"/>
<circle cx="480.2" cy="171.0" r="5.5" fill="#56625f" opacity="0.5"/>
<circle cx="478.7" cy="168.0" r="6.8" fill="#c9a4a2" opacity="0.55"/><circle cx="477.4" cy="169.9" r="3.0" fill="#931a1f"/><circle cx="477.7" cy="165.9" r="3.0" fill="#931a1f"/><circle cx="481.0" cy="168.2" r="3.0" fill="#931a1f"/><circle cx="478.7" cy="168.0" r="2.6" fill="#931a1f"/><circle cx="478.6" cy="169.8" r="1.6" fill="#c8343a" opacity="0.8"/><circle cx="478.4" cy="166.3" r="1.5" fill="#5a0a0e"/>
<circle cx="440.4" cy="141.3" r="5.5" fill="#56625f" opacity="0.5"/>
<circle cx="438.9" cy="138.3" r="6.8" fill="#c9a4a2" opacity="0.55"/><circle cx="441.1" cy="137.6" r="3.0" fill="#8a171b"/><circle cx="438.4" cy="140.5" r="3.0" fill="#8a171b"/><circle cx="437.2" cy="136.7" r="3.0" fill="#8a171b"/><circle cx="438.9" cy="138.3" r="2.6" fill="#8a171b"/><circle cx="440.0" cy="136.9" r="1.6" fill="#c8343a" opacity="0.8"/><circle cx="438.1" cy="139.8" r="1.5" fill="#5a0a0e"/>
<circle cx="444.8" cy="165.0" r="5.5" fill="#56625f" opacity="0.5"/>
<circle cx="443.3" cy="162.0" r="6.8" fill="#c9a4a2" opacity="0.55"/><circle cx="445.3" cy="163.2" r="3.0" fill="#a52428"/><circle cx="441.3" cy="163.1" r="3.0" fill="#a52428"/><circle cx="443.4" cy="159.7" r="3.0" fill="#a52428"/><circle cx="443.3" cy="162.0" r="2.6" fill="#a52428"/><circle cx="445.1" cy="161.9" r="1.6" fill="#c8343a" opacity="0.8"/><circle cx="441.6" cy="162.4" r="1.5" fill="#5a0a0e"/>
<circle cx="461.1" cy="178.4" r="5.5" fill="#56625f" opacity="0.5"/>
<circle cx="459.6" cy="175.4" r="6.8" fill="#c9a4a2" opacity="0.55"/><circle cx="457.3" cy="175.3" r="3.0" fill="#8a171b"/><circle cx="460.8" cy="173.4" r="3.0" fill="#8a171b"/><circle cx="460.7" cy="177.4" r="3.0" fill="#8a171b"/><circle cx="459.6" cy="175.4" r="2.6" fill="#8a171b"/><circle cx="458.1" cy="176.4" r="1.6" fill="#c8343a" opacity="0.8"/><circle cx="460.8" cy="174.2" r="1.5" fill="#5a0a0e"/>
<circle cx="418.5" cy="123.7" r="5.5" fill="#56625f" opacity="0.5"/>
<circle cx="417.0" cy="120.7" r="6.8" fill="#c9a4a2" opacity="0.55"/><circle cx="415.5" cy="122.5" r="3.0" fill="#931a1f"/><circle cx="416.2" cy="118.5" r="3.0" fill="#931a1f"/><circle cx="419.3" cy="121.1" r="3.0" fill="#931a1f"/><circle cx="417.0" cy="120.7" r="2.6" fill="#931a1f"/><circle cx="416.8" cy="122.5" r="1.6" fill="#c8343a" opacity="0.8"/><circle cx="416.8" cy="119.0" r="1.5" fill="#5a0a0e"/>
<circle cx="428.1" cy="116.8" r="5.5" fill="#56625f" opacity="0.5"/>
<circle cx="426.6" cy="113.8" r="6.8" fill="#c9a4a2" opacity="0.55"/><circle cx="427.4" cy="111.7" r="3.0" fill="#9e1d22"/><circle cx="428.0" cy="115.6" r="3.0" fill="#9e1d22"/><circle cx="424.3" cy="114.1" r="3.0" fill="#9e1d22"/><circle cx="426.6" cy="113.8" r="2.6" fill="#9e1d22"/><circle cx="426.2" cy="112.0" r="1.6" fill="#c8343a" opacity="0.8"/><circle cx="427.3" cy="115.4" r="1.5" fill="#5a0a0e"/>
<circle cx="446.1" cy="103.0" r="5.5" fill="#56625f" opacity="0.5"/>
<circle cx="444.6" cy="100.0" r="6.8" fill="#c9a4a2" opacity="0.55"/><circle cx="445.4" cy="97.8" r="3.0" fill="#a52428"/><circle cx="446.1" cy="101.7" r="3.0" fill="#a52428"/><circle cx="442.3" cy="100.4" r="3.0" fill="#a52428"/><circle cx="444.6" cy="100.0" r="2.6" fill="#a52428"/><circle cx="444.2" cy="98.3" r="1.6" fill="#c8343a" opacity="0.8"/><circle cx="445.3" cy="101.5" r="1.5" fill="#5a0a0e"/>
<circle cx="448.8" cy="121.0" r="5.5" fill="#56625f" opacity="0.5"/>
<circle cx="447.3" cy="118.0" r="6.8" fill="#c9a4a2" opacity="0.55"/><circle cx="447.0" cy="115.7" r="3.0" fill="#a52428"/><circle cx="449.4" cy="118.9" r="3.0" fill="#a52428"/><circle cx="445.4" cy="119.4" r="3.0" fill="#a52428"/><circle cx="447.3" cy="118.0" r="2.6" fill="#a52428"/><circle cx="446.1" cy="116.6" r="1.6" fill="#c8343a" opacity="0.8"/><circle cx="448.6" cy="119.1" r="1.5" fill="#5a0a0e"/>
<circle cx="417.5" cy="131.0" r="5.5" fill="#56625f" opacity="0.5"/>
<circle cx="416.0" cy="128.0" r="6.8" fill="#c9a4a2" opacity="0.55"/><circle cx="417.8" cy="126.6" r="3.0" fill="#8a171b"/><circle cx="416.3" cy="130.3" r="3.0" fill="#8a171b"/><circle cx="413.9" cy="127.1" r="3.0" fill="#8a171b"/><circle cx="416.0" cy="128.0" r="2.6" fill="#8a171b"/><circle cx="416.6" cy="126.3" r="1.6" fill="#c8343a" opacity="0.8"/><circle cx="415.8" cy="129.7" r="1.5" fill="#5a0a0e"/>
<circle cx="426.5" cy="153.0" r="5.5" fill="#56625f" opacity="0.5"/>
<circle cx="425.0" cy="150.0" r="6.8" fill="#c9a4a2" opacity="0.55"/><circle cx="424.6" cy="152.3" r="3.0" fill="#8a171b"/><circle cx="423.2" cy="148.5" r="3.0" fill="#8a171b"/><circle cx="427.2" cy="149.2" r="3.0" fill="#8a171b"/><circle cx="425.0" cy="150.0" r="2.6" fill="#8a171b"/><circle cx="425.7" cy="151.6" r="1.6" fill="#c8343a" opacity="0.8"/><circle cx="424.0" cy="148.6" r="1.5" fill="#5a0a0e"/>
</g>
</svg>
</body></html>
